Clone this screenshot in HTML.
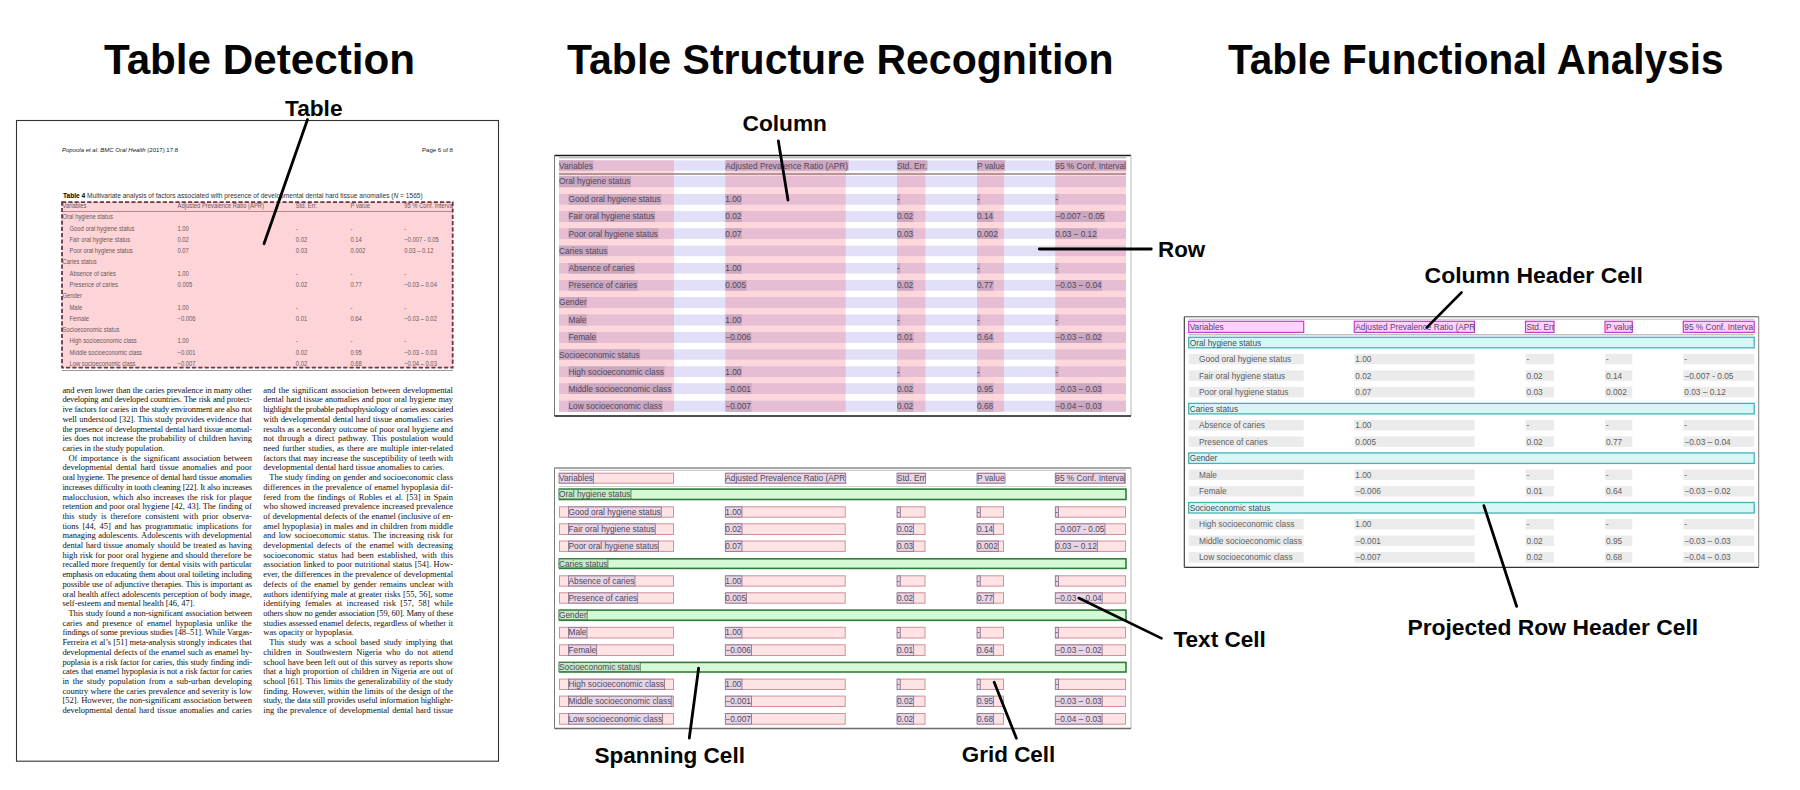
<!DOCTYPE html>
<html><head><meta charset="utf-8"><style>
html,body{margin:0;padding:0;background:#fff;width:1800px;height:790px;overflow:hidden;}
svg{position:absolute;left:0;top:0;}
.ln{position:absolute;box-sizing:border-box;font-family:"Liberation Serif",serif;font-size:8.5px;line-height:9px;color:#111;white-space:nowrap;text-align:justify;text-align-last:justify;height:9px;overflow:visible;}
.ln.nl{text-align-last:left;}
</style></head><body>
<svg width="1800" height="790" viewBox="0 0 1800 790"><text x="104.00" y="74.40" font-family="Liberation Sans" font-size="43" font-weight="bold" font-style="normal" fill="#050505" textLength="311.00" lengthAdjust="spacingAndGlyphs">Table Detection</text><text x="567.00" y="74.40" font-family="Liberation Sans" font-size="43" font-weight="bold" font-style="normal" fill="#050505" textLength="546.50" lengthAdjust="spacingAndGlyphs">Table Structure Recognition</text><text x="1228.00" y="74.40" font-family="Liberation Sans" font-size="43" font-weight="bold" font-style="normal" fill="#050505" textLength="495.50" lengthAdjust="spacingAndGlyphs">Table Functional Analysis</text><rect x="16.50" y="120.50" width="482.00" height="640.70" fill="#fff" stroke="#333" stroke-width="1.1"/><text x="62" y="152" font-family="Liberation Sans" font-size="6.2" fill="#222" textLength="116" lengthAdjust="spacingAndGlyphs"><tspan font-style="italic">Popoola et al. BMC Oral Health</tspan>  (2017) 17:8</text><text x="422.00" y="152.00" font-family="Liberation Sans" font-size="6.2" font-weight="normal" font-style="normal" fill="#222" textLength="31.00" lengthAdjust="spacingAndGlyphs">Page 6 of 8</text><text x="63" y="197.5" font-family="Liberation Sans" font-size="6.3" fill="#333" textLength="359.7" lengthAdjust="spacingAndGlyphs"><tspan font-weight="bold" fill="#000">Table 4</tspan> Multivariate analysis of factors associated with presence of developmental dental hard tissue anomalies (<tspan font-style="italic">N</tspan> = 1565)</text><rect x="62.00" y="202.00" width="391.00" height="166.00" fill="#fdd5d8" stroke="none" stroke-width="1"/><line x1="62.00" y1="211.50" x2="453.00" y2="211.50" stroke="#a88088" stroke-width="0.9"/><line x1="62.00" y1="370.50" x2="453.00" y2="370.50" stroke="#9a9a9a" stroke-width="1"/><text x="62.50" y="208.00" font-family="Liberation Sans" font-size="6.8" font-weight="normal" font-style="normal" fill="#6a585c" textLength="23.95" lengthAdjust="spacingAndGlyphs">Variables</text><text x="177.50" y="208.00" font-family="Liberation Sans" font-size="6.8" font-weight="normal" font-style="normal" fill="#6a585c" textLength="86.49" lengthAdjust="spacingAndGlyphs">Adjusted Prevalence Ratio (APR)</text><text x="295.80" y="208.00" font-family="Liberation Sans" font-size="6.8" font-weight="normal" font-style="normal" fill="#6a585c" textLength="21.13" lengthAdjust="spacingAndGlyphs">Std. Err.</text><text x="350.50" y="208.00" font-family="Liberation Sans" font-size="6.8" font-weight="normal" font-style="normal" fill="#6a585c" textLength="19.41" lengthAdjust="spacingAndGlyphs">P value</text><text x="404.20" y="208.00" font-family="Liberation Sans" font-size="6.8" font-weight="normal" font-style="normal" fill="#6a585c" textLength="48.45" lengthAdjust="spacingAndGlyphs">95 % Conf. Interva</text><text x="62.50" y="219.29" font-family="Liberation Sans" font-size="6.8" font-weight="normal" font-style="normal" fill="#6a585c" textLength="50.40" lengthAdjust="spacingAndGlyphs">Oral hygiene status</text><text x="69.50" y="230.58" font-family="Liberation Sans" font-size="6.8" font-weight="normal" font-style="normal" fill="#6a585c" textLength="65.04" lengthAdjust="spacingAndGlyphs">Good oral hygiene status</text><text x="177.50" y="230.58" font-family="Liberation Sans" font-size="6.8" font-weight="normal" font-style="normal" fill="#6a585c" textLength="11.38" lengthAdjust="spacingAndGlyphs">1.00</text><text x="295.80" y="230.58" font-family="Liberation Sans" font-size="6.8" font-weight="normal" font-style="normal" fill="#6a585c" textLength="1.95" lengthAdjust="spacingAndGlyphs">-</text><text x="350.50" y="230.58" font-family="Liberation Sans" font-size="6.8" font-weight="normal" font-style="normal" fill="#6a585c" textLength="1.95" lengthAdjust="spacingAndGlyphs">-</text><text x="404.20" y="230.58" font-family="Liberation Sans" font-size="6.8" font-weight="normal" font-style="normal" fill="#6a585c" textLength="1.95" lengthAdjust="spacingAndGlyphs">-</text><text x="69.50" y="241.87" font-family="Liberation Sans" font-size="6.8" font-weight="normal" font-style="normal" fill="#6a585c" textLength="60.80" lengthAdjust="spacingAndGlyphs">Fair oral hygiene status</text><text x="177.50" y="241.87" font-family="Liberation Sans" font-size="6.8" font-weight="normal" font-style="normal" fill="#6a585c" textLength="11.38" lengthAdjust="spacingAndGlyphs">0.02</text><text x="295.80" y="241.87" font-family="Liberation Sans" font-size="6.8" font-weight="normal" font-style="normal" fill="#6a585c" textLength="11.38" lengthAdjust="spacingAndGlyphs">0.02</text><text x="350.50" y="241.87" font-family="Liberation Sans" font-size="6.8" font-weight="normal" font-style="normal" fill="#6a585c" textLength="11.38" lengthAdjust="spacingAndGlyphs">0.14</text><text x="404.20" y="241.87" font-family="Liberation Sans" font-size="6.8" font-weight="normal" font-style="normal" fill="#6a585c" textLength="34.64" lengthAdjust="spacingAndGlyphs">−0.007 - 0.05</text><text x="69.50" y="253.16" font-family="Liberation Sans" font-size="6.8" font-weight="normal" font-style="normal" fill="#6a585c" textLength="63.08" lengthAdjust="spacingAndGlyphs">Poor oral hygiene status</text><text x="177.50" y="253.16" font-family="Liberation Sans" font-size="6.8" font-weight="normal" font-style="normal" fill="#6a585c" textLength="11.38" lengthAdjust="spacingAndGlyphs">0.07</text><text x="295.80" y="253.16" font-family="Liberation Sans" font-size="6.8" font-weight="normal" font-style="normal" fill="#6a585c" textLength="11.38" lengthAdjust="spacingAndGlyphs">0.03</text><text x="350.50" y="253.16" font-family="Liberation Sans" font-size="6.8" font-weight="normal" font-style="normal" fill="#6a585c" textLength="14.64" lengthAdjust="spacingAndGlyphs">0.002</text><text x="404.20" y="253.16" font-family="Liberation Sans" font-size="6.8" font-weight="normal" font-style="normal" fill="#6a585c" textLength="29.27" lengthAdjust="spacingAndGlyphs">0.03 – 0.12</text><text x="62.50" y="264.45" font-family="Liberation Sans" font-size="6.8" font-weight="normal" font-style="normal" fill="#6a585c" textLength="34.14" lengthAdjust="spacingAndGlyphs">Caries status</text><text x="69.50" y="275.74" font-family="Liberation Sans" font-size="6.8" font-weight="normal" font-style="normal" fill="#6a585c" textLength="46.50" lengthAdjust="spacingAndGlyphs">Absence of caries</text><text x="177.50" y="275.74" font-family="Liberation Sans" font-size="6.8" font-weight="normal" font-style="normal" fill="#6a585c" textLength="11.38" lengthAdjust="spacingAndGlyphs">1.00</text><text x="295.80" y="275.74" font-family="Liberation Sans" font-size="6.8" font-weight="normal" font-style="normal" fill="#6a585c" textLength="1.95" lengthAdjust="spacingAndGlyphs">-</text><text x="350.50" y="275.74" font-family="Liberation Sans" font-size="6.8" font-weight="normal" font-style="normal" fill="#6a585c" textLength="1.95" lengthAdjust="spacingAndGlyphs">-</text><text x="404.20" y="275.74" font-family="Liberation Sans" font-size="6.8" font-weight="normal" font-style="normal" fill="#6a585c" textLength="1.95" lengthAdjust="spacingAndGlyphs">-</text><text x="69.50" y="287.03" font-family="Liberation Sans" font-size="6.8" font-weight="normal" font-style="normal" fill="#6a585c" textLength="48.45" lengthAdjust="spacingAndGlyphs">Presence of caries</text><text x="177.50" y="287.03" font-family="Liberation Sans" font-size="6.8" font-weight="normal" font-style="normal" fill="#6a585c" textLength="14.64" lengthAdjust="spacingAndGlyphs">0.005</text><text x="295.80" y="287.03" font-family="Liberation Sans" font-size="6.8" font-weight="normal" font-style="normal" fill="#6a585c" textLength="11.38" lengthAdjust="spacingAndGlyphs">0.02</text><text x="350.50" y="287.03" font-family="Liberation Sans" font-size="6.8" font-weight="normal" font-style="normal" fill="#6a585c" textLength="11.38" lengthAdjust="spacingAndGlyphs">0.77</text><text x="404.20" y="287.03" font-family="Liberation Sans" font-size="6.8" font-weight="normal" font-style="normal" fill="#6a585c" textLength="32.69" lengthAdjust="spacingAndGlyphs">−0.03 – 0.04</text><text x="62.50" y="298.32" font-family="Liberation Sans" font-size="6.8" font-weight="normal" font-style="normal" fill="#6a585c" textLength="19.51" lengthAdjust="spacingAndGlyphs">Gender</text><text x="69.50" y="309.61" font-family="Liberation Sans" font-size="6.8" font-weight="normal" font-style="normal" fill="#6a585c" textLength="12.68" lengthAdjust="spacingAndGlyphs">Male</text><text x="177.50" y="309.61" font-family="Liberation Sans" font-size="6.8" font-weight="normal" font-style="normal" fill="#6a585c" textLength="11.38" lengthAdjust="spacingAndGlyphs">1.00</text><text x="295.80" y="309.61" font-family="Liberation Sans" font-size="6.8" font-weight="normal" font-style="normal" fill="#6a585c" textLength="1.95" lengthAdjust="spacingAndGlyphs">-</text><text x="350.50" y="309.61" font-family="Liberation Sans" font-size="6.8" font-weight="normal" font-style="normal" fill="#6a585c" textLength="1.95" lengthAdjust="spacingAndGlyphs">-</text><text x="404.20" y="309.61" font-family="Liberation Sans" font-size="6.8" font-weight="normal" font-style="normal" fill="#6a585c" textLength="1.95" lengthAdjust="spacingAndGlyphs">-</text><text x="69.50" y="320.90" font-family="Liberation Sans" font-size="6.8" font-weight="normal" font-style="normal" fill="#6a585c" textLength="19.51" lengthAdjust="spacingAndGlyphs">Female</text><text x="177.50" y="320.90" font-family="Liberation Sans" font-size="6.8" font-weight="normal" font-style="normal" fill="#6a585c" textLength="18.05" lengthAdjust="spacingAndGlyphs">−0.006</text><text x="295.80" y="320.90" font-family="Liberation Sans" font-size="6.8" font-weight="normal" font-style="normal" fill="#6a585c" textLength="11.38" lengthAdjust="spacingAndGlyphs">0.01</text><text x="350.50" y="320.90" font-family="Liberation Sans" font-size="6.8" font-weight="normal" font-style="normal" fill="#6a585c" textLength="11.38" lengthAdjust="spacingAndGlyphs">0.64</text><text x="404.20" y="320.90" font-family="Liberation Sans" font-size="6.8" font-weight="normal" font-style="normal" fill="#6a585c" textLength="32.69" lengthAdjust="spacingAndGlyphs">−0.03 – 0.02</text><text x="62.50" y="332.19" font-family="Liberation Sans" font-size="6.8" font-weight="normal" font-style="normal" fill="#6a585c" textLength="56.90" lengthAdjust="spacingAndGlyphs">Socioeconomic status</text><text x="69.50" y="343.48" font-family="Liberation Sans" font-size="6.8" font-weight="normal" font-style="normal" fill="#6a585c" textLength="67.30" lengthAdjust="spacingAndGlyphs">High socioeconomic class</text><text x="177.50" y="343.48" font-family="Liberation Sans" font-size="6.8" font-weight="normal" font-style="normal" fill="#6a585c" textLength="11.38" lengthAdjust="spacingAndGlyphs">1.00</text><text x="295.80" y="343.48" font-family="Liberation Sans" font-size="6.8" font-weight="normal" font-style="normal" fill="#6a585c" textLength="1.95" lengthAdjust="spacingAndGlyphs">-</text><text x="350.50" y="343.48" font-family="Liberation Sans" font-size="6.8" font-weight="normal" font-style="normal" fill="#6a585c" textLength="1.95" lengthAdjust="spacingAndGlyphs">-</text><text x="404.20" y="343.48" font-family="Liberation Sans" font-size="6.8" font-weight="normal" font-style="normal" fill="#6a585c" textLength="1.95" lengthAdjust="spacingAndGlyphs">-</text><text x="69.50" y="354.77" font-family="Liberation Sans" font-size="6.8" font-weight="normal" font-style="normal" fill="#6a585c" textLength="72.50" lengthAdjust="spacingAndGlyphs">Middle socioeconomic class</text><text x="177.50" y="354.77" font-family="Liberation Sans" font-size="6.8" font-weight="normal" font-style="normal" fill="#6a585c" textLength="18.05" lengthAdjust="spacingAndGlyphs">−0.001</text><text x="295.80" y="354.77" font-family="Liberation Sans" font-size="6.8" font-weight="normal" font-style="normal" fill="#6a585c" textLength="11.38" lengthAdjust="spacingAndGlyphs">0.02</text><text x="350.50" y="354.77" font-family="Liberation Sans" font-size="6.8" font-weight="normal" font-style="normal" fill="#6a585c" textLength="11.38" lengthAdjust="spacingAndGlyphs">0.95</text><text x="404.20" y="354.77" font-family="Liberation Sans" font-size="6.8" font-weight="normal" font-style="normal" fill="#6a585c" textLength="32.69" lengthAdjust="spacingAndGlyphs">−0.03 – 0.03</text><text x="69.50" y="366.06" font-family="Liberation Sans" font-size="6.8" font-weight="normal" font-style="normal" fill="#6a585c" textLength="66.00" lengthAdjust="spacingAndGlyphs">Low socioeconomic class</text><text x="177.50" y="366.06" font-family="Liberation Sans" font-size="6.8" font-weight="normal" font-style="normal" fill="#6a585c" textLength="18.05" lengthAdjust="spacingAndGlyphs">−0.007</text><text x="295.80" y="366.06" font-family="Liberation Sans" font-size="6.8" font-weight="normal" font-style="normal" fill="#6a585c" textLength="11.38" lengthAdjust="spacingAndGlyphs">0.02</text><text x="350.50" y="366.06" font-family="Liberation Sans" font-size="6.8" font-weight="normal" font-style="normal" fill="#6a585c" textLength="11.38" lengthAdjust="spacingAndGlyphs">0.68</text><text x="404.20" y="366.06" font-family="Liberation Sans" font-size="6.8" font-weight="normal" font-style="normal" fill="#6a585c" textLength="32.69" lengthAdjust="spacingAndGlyphs">−0.04 – 0.03</text><rect x="62.00" y="202.20" width="390.70" height="165.50" fill="none" stroke="#6c3642" stroke-width="1.8" stroke-dasharray="4.2 2.1"/><rect x="554.50" y="155.50" width="576.50" height="260.50" fill="#fff" stroke="none" stroke-width="1"/><rect x="559.00" y="160.40" width="115.00" height="251.30" fill="#fdd7db" stroke="none" stroke-width="1"/><rect x="725.30" y="160.40" width="120.40" height="251.30" fill="#fdd7db" stroke="none" stroke-width="1"/><rect x="897.00" y="160.40" width="28.50" height="251.30" fill="#fdd7db" stroke="none" stroke-width="1"/><rect x="977.00" y="160.40" width="27.00" height="251.30" fill="#fdd7db" stroke="none" stroke-width="1"/><rect x="1055.30" y="160.40" width="70.70" height="251.30" fill="#fdd7db" stroke="none" stroke-width="1"/><rect x="559.00" y="160.40" width="567.00" height="10.30" fill="#e2e0f8" stroke="none" stroke-width="1"/><rect x="559.00" y="160.40" width="115.00" height="10.30" fill="#e6bdd2" stroke="none" stroke-width="1"/><rect x="725.30" y="160.40" width="120.40" height="10.30" fill="#e6bdd2" stroke="none" stroke-width="1"/><rect x="897.00" y="160.40" width="28.50" height="10.30" fill="#e6bdd2" stroke="none" stroke-width="1"/><rect x="977.00" y="160.40" width="27.00" height="10.30" fill="#e6bdd2" stroke="none" stroke-width="1"/><rect x="1055.30" y="160.40" width="70.70" height="10.30" fill="#e6bdd2" stroke="none" stroke-width="1"/><rect x="559.00" y="176.00" width="567.00" height="11.20" fill="#e2e0f8" stroke="none" stroke-width="1"/><rect x="559.00" y="176.00" width="115.00" height="11.20" fill="#e6bdd2" stroke="none" stroke-width="1"/><rect x="725.30" y="176.00" width="120.40" height="11.20" fill="#e6bdd2" stroke="none" stroke-width="1"/><rect x="897.00" y="176.00" width="28.50" height="11.20" fill="#e6bdd2" stroke="none" stroke-width="1"/><rect x="977.00" y="176.00" width="27.00" height="11.20" fill="#e6bdd2" stroke="none" stroke-width="1"/><rect x="1055.30" y="176.00" width="70.70" height="11.20" fill="#e6bdd2" stroke="none" stroke-width="1"/><rect x="559.00" y="194.00" width="567.00" height="10.70" fill="#e2e0f8" stroke="none" stroke-width="1"/><rect x="559.00" y="194.00" width="115.00" height="10.70" fill="#e6bdd2" stroke="none" stroke-width="1"/><rect x="725.30" y="194.00" width="120.40" height="10.70" fill="#e6bdd2" stroke="none" stroke-width="1"/><rect x="897.00" y="194.00" width="28.50" height="10.70" fill="#e6bdd2" stroke="none" stroke-width="1"/><rect x="977.00" y="194.00" width="27.00" height="10.70" fill="#e6bdd2" stroke="none" stroke-width="1"/><rect x="1055.30" y="194.00" width="70.70" height="10.70" fill="#e6bdd2" stroke="none" stroke-width="1"/><rect x="559.00" y="211.00" width="567.00" height="11.00" fill="#e2e0f8" stroke="none" stroke-width="1"/><rect x="559.00" y="211.00" width="115.00" height="11.00" fill="#e6bdd2" stroke="none" stroke-width="1"/><rect x="725.30" y="211.00" width="120.40" height="11.00" fill="#e6bdd2" stroke="none" stroke-width="1"/><rect x="897.00" y="211.00" width="28.50" height="11.00" fill="#e6bdd2" stroke="none" stroke-width="1"/><rect x="977.00" y="211.00" width="27.00" height="11.00" fill="#e6bdd2" stroke="none" stroke-width="1"/><rect x="1055.30" y="211.00" width="70.70" height="11.00" fill="#e6bdd2" stroke="none" stroke-width="1"/><rect x="559.00" y="228.20" width="567.00" height="10.70" fill="#e2e0f8" stroke="none" stroke-width="1"/><rect x="559.00" y="228.20" width="115.00" height="10.70" fill="#e6bdd2" stroke="none" stroke-width="1"/><rect x="725.30" y="228.20" width="120.40" height="10.70" fill="#e6bdd2" stroke="none" stroke-width="1"/><rect x="897.00" y="228.20" width="28.50" height="10.70" fill="#e6bdd2" stroke="none" stroke-width="1"/><rect x="977.00" y="228.20" width="27.00" height="10.70" fill="#e6bdd2" stroke="none" stroke-width="1"/><rect x="1055.30" y="228.20" width="70.70" height="10.70" fill="#e6bdd2" stroke="none" stroke-width="1"/><rect x="559.00" y="245.70" width="567.00" height="10.40" fill="#e2e0f8" stroke="none" stroke-width="1"/><rect x="559.00" y="245.70" width="115.00" height="10.40" fill="#e6bdd2" stroke="none" stroke-width="1"/><rect x="725.30" y="245.70" width="120.40" height="10.40" fill="#e6bdd2" stroke="none" stroke-width="1"/><rect x="897.00" y="245.70" width="28.50" height="10.40" fill="#e6bdd2" stroke="none" stroke-width="1"/><rect x="977.00" y="245.70" width="27.00" height="10.40" fill="#e6bdd2" stroke="none" stroke-width="1"/><rect x="1055.30" y="245.70" width="70.70" height="10.40" fill="#e6bdd2" stroke="none" stroke-width="1"/><rect x="559.00" y="263.00" width="567.00" height="10.60" fill="#e2e0f8" stroke="none" stroke-width="1"/><rect x="559.00" y="263.00" width="115.00" height="10.60" fill="#e6bdd2" stroke="none" stroke-width="1"/><rect x="725.30" y="263.00" width="120.40" height="10.60" fill="#e6bdd2" stroke="none" stroke-width="1"/><rect x="897.00" y="263.00" width="28.50" height="10.60" fill="#e6bdd2" stroke="none" stroke-width="1"/><rect x="977.00" y="263.00" width="27.00" height="10.60" fill="#e6bdd2" stroke="none" stroke-width="1"/><rect x="1055.30" y="263.00" width="70.70" height="10.60" fill="#e6bdd2" stroke="none" stroke-width="1"/><rect x="559.00" y="280.00" width="567.00" height="10.70" fill="#e2e0f8" stroke="none" stroke-width="1"/><rect x="559.00" y="280.00" width="115.00" height="10.70" fill="#e6bdd2" stroke="none" stroke-width="1"/><rect x="725.30" y="280.00" width="120.40" height="10.70" fill="#e6bdd2" stroke="none" stroke-width="1"/><rect x="897.00" y="280.00" width="28.50" height="10.70" fill="#e6bdd2" stroke="none" stroke-width="1"/><rect x="977.00" y="280.00" width="27.00" height="10.70" fill="#e6bdd2" stroke="none" stroke-width="1"/><rect x="1055.30" y="280.00" width="70.70" height="10.70" fill="#e6bdd2" stroke="none" stroke-width="1"/><rect x="559.00" y="297.00" width="567.00" height="11.00" fill="#e2e0f8" stroke="none" stroke-width="1"/><rect x="559.00" y="297.00" width="115.00" height="11.00" fill="#e6bdd2" stroke="none" stroke-width="1"/><rect x="725.30" y="297.00" width="120.40" height="11.00" fill="#e6bdd2" stroke="none" stroke-width="1"/><rect x="897.00" y="297.00" width="28.50" height="11.00" fill="#e6bdd2" stroke="none" stroke-width="1"/><rect x="977.00" y="297.00" width="27.00" height="11.00" fill="#e6bdd2" stroke="none" stroke-width="1"/><rect x="1055.30" y="297.00" width="70.70" height="11.00" fill="#e6bdd2" stroke="none" stroke-width="1"/><rect x="559.00" y="314.50" width="567.00" height="11.00" fill="#e2e0f8" stroke="none" stroke-width="1"/><rect x="559.00" y="314.50" width="115.00" height="11.00" fill="#e6bdd2" stroke="none" stroke-width="1"/><rect x="725.30" y="314.50" width="120.40" height="11.00" fill="#e6bdd2" stroke="none" stroke-width="1"/><rect x="897.00" y="314.50" width="28.50" height="11.00" fill="#e6bdd2" stroke="none" stroke-width="1"/><rect x="977.00" y="314.50" width="27.00" height="11.00" fill="#e6bdd2" stroke="none" stroke-width="1"/><rect x="1055.30" y="314.50" width="70.70" height="11.00" fill="#e6bdd2" stroke="none" stroke-width="1"/><rect x="559.00" y="332.00" width="567.00" height="11.00" fill="#e2e0f8" stroke="none" stroke-width="1"/><rect x="559.00" y="332.00" width="115.00" height="11.00" fill="#e6bdd2" stroke="none" stroke-width="1"/><rect x="725.30" y="332.00" width="120.40" height="11.00" fill="#e6bdd2" stroke="none" stroke-width="1"/><rect x="897.00" y="332.00" width="28.50" height="11.00" fill="#e6bdd2" stroke="none" stroke-width="1"/><rect x="977.00" y="332.00" width="27.00" height="11.00" fill="#e6bdd2" stroke="none" stroke-width="1"/><rect x="1055.30" y="332.00" width="70.70" height="11.00" fill="#e6bdd2" stroke="none" stroke-width="1"/><rect x="559.00" y="349.30" width="567.00" height="10.40" fill="#e2e0f8" stroke="none" stroke-width="1"/><rect x="559.00" y="349.30" width="115.00" height="10.40" fill="#e6bdd2" stroke="none" stroke-width="1"/><rect x="725.30" y="349.30" width="120.40" height="10.40" fill="#e6bdd2" stroke="none" stroke-width="1"/><rect x="897.00" y="349.30" width="28.50" height="10.40" fill="#e6bdd2" stroke="none" stroke-width="1"/><rect x="977.00" y="349.30" width="27.00" height="10.40" fill="#e6bdd2" stroke="none" stroke-width="1"/><rect x="1055.30" y="349.30" width="70.70" height="10.40" fill="#e6bdd2" stroke="none" stroke-width="1"/><rect x="559.00" y="366.30" width="567.00" height="10.70" fill="#e2e0f8" stroke="none" stroke-width="1"/><rect x="559.00" y="366.30" width="115.00" height="10.70" fill="#e6bdd2" stroke="none" stroke-width="1"/><rect x="725.30" y="366.30" width="120.40" height="10.70" fill="#e6bdd2" stroke="none" stroke-width="1"/><rect x="897.00" y="366.30" width="28.50" height="10.70" fill="#e6bdd2" stroke="none" stroke-width="1"/><rect x="977.00" y="366.30" width="27.00" height="10.70" fill="#e6bdd2" stroke="none" stroke-width="1"/><rect x="1055.30" y="366.30" width="70.70" height="10.70" fill="#e6bdd2" stroke="none" stroke-width="1"/><rect x="559.00" y="383.30" width="567.00" height="10.70" fill="#e2e0f8" stroke="none" stroke-width="1"/><rect x="559.00" y="383.30" width="115.00" height="10.70" fill="#e6bdd2" stroke="none" stroke-width="1"/><rect x="725.30" y="383.30" width="120.40" height="10.70" fill="#e6bdd2" stroke="none" stroke-width="1"/><rect x="897.00" y="383.30" width="28.50" height="10.70" fill="#e6bdd2" stroke="none" stroke-width="1"/><rect x="977.00" y="383.30" width="27.00" height="10.70" fill="#e6bdd2" stroke="none" stroke-width="1"/><rect x="1055.30" y="383.30" width="70.70" height="10.70" fill="#e6bdd2" stroke="none" stroke-width="1"/><rect x="559.00" y="400.70" width="567.00" height="11.00" fill="#e2e0f8" stroke="none" stroke-width="1"/><rect x="559.00" y="400.70" width="115.00" height="11.00" fill="#e6bdd2" stroke="none" stroke-width="1"/><rect x="725.30" y="400.70" width="120.40" height="11.00" fill="#e6bdd2" stroke="none" stroke-width="1"/><rect x="897.00" y="400.70" width="28.50" height="11.00" fill="#e6bdd2" stroke="none" stroke-width="1"/><rect x="977.00" y="400.70" width="27.00" height="11.00" fill="#e6bdd2" stroke="none" stroke-width="1"/><rect x="1055.30" y="400.70" width="70.70" height="11.00" fill="#e6bdd2" stroke="none" stroke-width="1"/><line x1="559.00" y1="174.00" x2="1126.00" y2="174.00" stroke="#9a8080" stroke-width="1.5"/><line x1="559.00" y1="157.80" x2="1126.00" y2="157.80" stroke="#a0a0a0" stroke-width="1"/><rect x="559.00" y="160.40" width="34.48" height="10.30" fill="#caa8c0" stroke="none" stroke-width="1"/><text x="559.00" y="168.70" font-family="Liberation Sans" font-size="8.8" font-weight="normal" font-style="normal" fill="#54465a" textLength="33.98" lengthAdjust="spacingAndGlyphs">Variables</text><rect x="725.30" y="160.40" width="123.21" height="10.30" fill="#caa8c0" stroke="none" stroke-width="1"/><text x="725.30" y="168.70" font-family="Liberation Sans" font-size="8.8" font-weight="normal" font-style="normal" fill="#54465a" textLength="122.71" lengthAdjust="spacingAndGlyphs">Adjusted Prevalence Ratio (APR)</text><rect x="897.00" y="160.40" width="30.48" height="10.30" fill="#caa8c0" stroke="none" stroke-width="1"/><text x="897.00" y="168.70" font-family="Liberation Sans" font-size="8.8" font-weight="normal" font-style="normal" fill="#54465a" textLength="29.98" lengthAdjust="spacingAndGlyphs">Std. Err.</text><rect x="977.00" y="160.40" width="28.03" height="10.30" fill="#caa8c0" stroke="none" stroke-width="1"/><text x="977.00" y="168.70" font-family="Liberation Sans" font-size="8.8" font-weight="normal" font-style="normal" fill="#54465a" textLength="27.53" lengthAdjust="spacingAndGlyphs">P value</text><rect x="1055.30" y="160.40" width="71.08" height="10.30" fill="#caa8c0" stroke="none" stroke-width="1"/><text x="1055.30" y="168.70" font-family="Liberation Sans" font-size="8.8" font-weight="normal" font-style="normal" fill="#54465a" textLength="70.58" lengthAdjust="spacingAndGlyphs">95 % Conf. Interval</text><rect x="559.00" y="176.00" width="72.01" height="11.20" fill="#caa8c0" stroke="none" stroke-width="1"/><text x="559.00" y="184.30" font-family="Liberation Sans" font-size="8.8" font-weight="normal" font-style="normal" fill="#54465a" textLength="71.51" lengthAdjust="spacingAndGlyphs">Oral hygiene status</text><rect x="568.50" y="194.00" width="92.77" height="10.70" fill="#caa8c0" stroke="none" stroke-width="1"/><text x="568.50" y="202.30" font-family="Liberation Sans" font-size="8.8" font-weight="normal" font-style="normal" fill="#54465a" textLength="92.27" lengthAdjust="spacingAndGlyphs">Good oral hygiene status</text><rect x="725.30" y="194.00" width="16.65" height="10.70" fill="#caa8c0" stroke="none" stroke-width="1"/><text x="725.30" y="202.30" font-family="Liberation Sans" font-size="8.8" font-weight="normal" font-style="normal" fill="#54465a" textLength="16.15" lengthAdjust="spacingAndGlyphs">1.00</text><rect x="897.00" y="194.00" width="3.26" height="10.70" fill="#caa8c0" stroke="none" stroke-width="1"/><text x="897.00" y="202.30" font-family="Liberation Sans" font-size="8.8" font-weight="normal" font-style="normal" fill="#54465a" textLength="2.76" lengthAdjust="spacingAndGlyphs">-</text><rect x="977.00" y="194.00" width="3.26" height="10.70" fill="#caa8c0" stroke="none" stroke-width="1"/><text x="977.00" y="202.30" font-family="Liberation Sans" font-size="8.8" font-weight="normal" font-style="normal" fill="#54465a" textLength="2.76" lengthAdjust="spacingAndGlyphs">-</text><rect x="1055.30" y="194.00" width="3.26" height="10.70" fill="#caa8c0" stroke="none" stroke-width="1"/><text x="1055.30" y="202.30" font-family="Liberation Sans" font-size="8.8" font-weight="normal" font-style="normal" fill="#54465a" textLength="2.76" lengthAdjust="spacingAndGlyphs">-</text><rect x="568.50" y="211.00" width="86.76" height="11.00" fill="#caa8c0" stroke="none" stroke-width="1"/><text x="568.50" y="219.30" font-family="Liberation Sans" font-size="8.8" font-weight="normal" font-style="normal" fill="#54465a" textLength="86.26" lengthAdjust="spacingAndGlyphs">Fair oral hygiene status</text><rect x="725.30" y="211.00" width="16.65" height="11.00" fill="#caa8c0" stroke="none" stroke-width="1"/><text x="725.30" y="219.30" font-family="Liberation Sans" font-size="8.8" font-weight="normal" font-style="normal" fill="#54465a" textLength="16.15" lengthAdjust="spacingAndGlyphs">0.02</text><rect x="897.00" y="211.00" width="16.65" height="11.00" fill="#caa8c0" stroke="none" stroke-width="1"/><text x="897.00" y="219.30" font-family="Liberation Sans" font-size="8.8" font-weight="normal" font-style="normal" fill="#54465a" textLength="16.15" lengthAdjust="spacingAndGlyphs">0.02</text><rect x="977.00" y="211.00" width="16.65" height="11.00" fill="#caa8c0" stroke="none" stroke-width="1"/><text x="977.00" y="219.30" font-family="Liberation Sans" font-size="8.8" font-weight="normal" font-style="normal" fill="#54465a" textLength="16.15" lengthAdjust="spacingAndGlyphs">0.14</text><rect x="1055.30" y="211.00" width="49.64" height="11.00" fill="#caa8c0" stroke="none" stroke-width="1"/><text x="1055.30" y="219.30" font-family="Liberation Sans" font-size="8.8" font-weight="normal" font-style="normal" fill="#54465a" textLength="49.14" lengthAdjust="spacingAndGlyphs">−0.007 - 0.05</text><rect x="568.50" y="228.20" width="90.00" height="10.70" fill="#caa8c0" stroke="none" stroke-width="1"/><text x="568.50" y="236.50" font-family="Liberation Sans" font-size="8.8" font-weight="normal" font-style="normal" fill="#54465a" textLength="89.50" lengthAdjust="spacingAndGlyphs">Poor oral hygiene status</text><rect x="725.30" y="228.20" width="16.65" height="10.70" fill="#caa8c0" stroke="none" stroke-width="1"/><text x="725.30" y="236.50" font-family="Liberation Sans" font-size="8.8" font-weight="normal" font-style="normal" fill="#54465a" textLength="16.15" lengthAdjust="spacingAndGlyphs">0.07</text><rect x="897.00" y="228.20" width="16.65" height="10.70" fill="#caa8c0" stroke="none" stroke-width="1"/><text x="897.00" y="236.50" font-family="Liberation Sans" font-size="8.8" font-weight="normal" font-style="normal" fill="#54465a" textLength="16.15" lengthAdjust="spacingAndGlyphs">0.03</text><rect x="977.00" y="228.20" width="21.27" height="10.70" fill="#caa8c0" stroke="none" stroke-width="1"/><text x="977.00" y="236.50" font-family="Liberation Sans" font-size="8.8" font-weight="normal" font-style="normal" fill="#54465a" textLength="20.77" lengthAdjust="spacingAndGlyphs">0.002</text><rect x="1055.30" y="228.20" width="42.03" height="10.70" fill="#caa8c0" stroke="none" stroke-width="1"/><text x="1055.30" y="236.50" font-family="Liberation Sans" font-size="8.8" font-weight="normal" font-style="normal" fill="#54465a" textLength="41.53" lengthAdjust="spacingAndGlyphs">0.03 – 0.12</text><rect x="559.00" y="245.70" width="48.93" height="10.40" fill="#caa8c0" stroke="none" stroke-width="1"/><text x="559.00" y="254.00" font-family="Liberation Sans" font-size="8.8" font-weight="normal" font-style="normal" fill="#54465a" textLength="48.43" lengthAdjust="spacingAndGlyphs">Caries status</text><rect x="568.50" y="263.00" width="66.47" height="10.60" fill="#caa8c0" stroke="none" stroke-width="1"/><text x="568.50" y="271.30" font-family="Liberation Sans" font-size="8.8" font-weight="normal" font-style="normal" fill="#54465a" textLength="65.97" lengthAdjust="spacingAndGlyphs">Absence of caries</text><rect x="725.30" y="263.00" width="16.65" height="10.60" fill="#caa8c0" stroke="none" stroke-width="1"/><text x="725.30" y="271.30" font-family="Liberation Sans" font-size="8.8" font-weight="normal" font-style="normal" fill="#54465a" textLength="16.15" lengthAdjust="spacingAndGlyphs">1.00</text><rect x="897.00" y="263.00" width="3.26" height="10.60" fill="#caa8c0" stroke="none" stroke-width="1"/><text x="897.00" y="271.30" font-family="Liberation Sans" font-size="8.8" font-weight="normal" font-style="normal" fill="#54465a" textLength="2.76" lengthAdjust="spacingAndGlyphs">-</text><rect x="977.00" y="263.00" width="3.26" height="10.60" fill="#caa8c0" stroke="none" stroke-width="1"/><text x="977.00" y="271.30" font-family="Liberation Sans" font-size="8.8" font-weight="normal" font-style="normal" fill="#54465a" textLength="2.76" lengthAdjust="spacingAndGlyphs">-</text><rect x="1055.30" y="263.00" width="3.26" height="10.60" fill="#caa8c0" stroke="none" stroke-width="1"/><text x="1055.30" y="271.30" font-family="Liberation Sans" font-size="8.8" font-weight="normal" font-style="normal" fill="#54465a" textLength="2.76" lengthAdjust="spacingAndGlyphs">-</text><rect x="568.50" y="280.00" width="69.23" height="10.70" fill="#caa8c0" stroke="none" stroke-width="1"/><text x="568.50" y="288.30" font-family="Liberation Sans" font-size="8.8" font-weight="normal" font-style="normal" fill="#54465a" textLength="68.73" lengthAdjust="spacingAndGlyphs">Presence of caries</text><rect x="725.30" y="280.00" width="21.27" height="10.70" fill="#caa8c0" stroke="none" stroke-width="1"/><text x="725.30" y="288.30" font-family="Liberation Sans" font-size="8.8" font-weight="normal" font-style="normal" fill="#54465a" textLength="20.77" lengthAdjust="spacingAndGlyphs">0.005</text><rect x="897.00" y="280.00" width="16.65" height="10.70" fill="#caa8c0" stroke="none" stroke-width="1"/><text x="897.00" y="288.30" font-family="Liberation Sans" font-size="8.8" font-weight="normal" font-style="normal" fill="#54465a" textLength="16.15" lengthAdjust="spacingAndGlyphs">0.02</text><rect x="977.00" y="280.00" width="16.65" height="10.70" fill="#caa8c0" stroke="none" stroke-width="1"/><text x="977.00" y="288.30" font-family="Liberation Sans" font-size="8.8" font-weight="normal" font-style="normal" fill="#54465a" textLength="16.15" lengthAdjust="spacingAndGlyphs">0.77</text><rect x="1055.30" y="280.00" width="46.88" height="10.70" fill="#caa8c0" stroke="none" stroke-width="1"/><text x="1055.30" y="288.30" font-family="Liberation Sans" font-size="8.8" font-weight="normal" font-style="normal" fill="#54465a" textLength="46.38" lengthAdjust="spacingAndGlyphs">−0.03 – 0.04</text><rect x="559.00" y="297.00" width="28.18" height="11.00" fill="#caa8c0" stroke="none" stroke-width="1"/><text x="559.00" y="305.30" font-family="Liberation Sans" font-size="8.8" font-weight="normal" font-style="normal" fill="#54465a" textLength="27.68" lengthAdjust="spacingAndGlyphs">Gender</text><rect x="568.50" y="314.50" width="18.49" height="11.00" fill="#caa8c0" stroke="none" stroke-width="1"/><text x="568.50" y="322.80" font-family="Liberation Sans" font-size="8.8" font-weight="normal" font-style="normal" fill="#54465a" textLength="17.99" lengthAdjust="spacingAndGlyphs">Male</text><rect x="725.30" y="314.50" width="16.65" height="11.00" fill="#caa8c0" stroke="none" stroke-width="1"/><text x="725.30" y="322.80" font-family="Liberation Sans" font-size="8.8" font-weight="normal" font-style="normal" fill="#54465a" textLength="16.15" lengthAdjust="spacingAndGlyphs">1.00</text><rect x="897.00" y="314.50" width="3.26" height="11.00" fill="#caa8c0" stroke="none" stroke-width="1"/><text x="897.00" y="322.80" font-family="Liberation Sans" font-size="8.8" font-weight="normal" font-style="normal" fill="#54465a" textLength="2.76" lengthAdjust="spacingAndGlyphs">-</text><rect x="977.00" y="314.50" width="3.26" height="11.00" fill="#caa8c0" stroke="none" stroke-width="1"/><text x="977.00" y="322.80" font-family="Liberation Sans" font-size="8.8" font-weight="normal" font-style="normal" fill="#54465a" textLength="2.76" lengthAdjust="spacingAndGlyphs">-</text><rect x="1055.30" y="314.50" width="3.26" height="11.00" fill="#caa8c0" stroke="none" stroke-width="1"/><text x="1055.30" y="322.80" font-family="Liberation Sans" font-size="8.8" font-weight="normal" font-style="normal" fill="#54465a" textLength="2.76" lengthAdjust="spacingAndGlyphs">-</text><rect x="568.50" y="332.00" width="28.17" height="11.00" fill="#caa8c0" stroke="none" stroke-width="1"/><text x="568.50" y="340.30" font-family="Liberation Sans" font-size="8.8" font-weight="normal" font-style="normal" fill="#54465a" textLength="27.67" lengthAdjust="spacingAndGlyphs">Female</text><rect x="725.30" y="332.00" width="26.12" height="11.00" fill="#caa8c0" stroke="none" stroke-width="1"/><text x="725.30" y="340.30" font-family="Liberation Sans" font-size="8.8" font-weight="normal" font-style="normal" fill="#54465a" textLength="25.62" lengthAdjust="spacingAndGlyphs">−0.006</text><rect x="897.00" y="332.00" width="16.65" height="11.00" fill="#caa8c0" stroke="none" stroke-width="1"/><text x="897.00" y="340.30" font-family="Liberation Sans" font-size="8.8" font-weight="normal" font-style="normal" fill="#54465a" textLength="16.15" lengthAdjust="spacingAndGlyphs">0.01</text><rect x="977.00" y="332.00" width="16.65" height="11.00" fill="#caa8c0" stroke="none" stroke-width="1"/><text x="977.00" y="340.30" font-family="Liberation Sans" font-size="8.8" font-weight="normal" font-style="normal" fill="#54465a" textLength="16.15" lengthAdjust="spacingAndGlyphs">0.64</text><rect x="1055.30" y="332.00" width="46.88" height="11.00" fill="#caa8c0" stroke="none" stroke-width="1"/><text x="1055.30" y="340.30" font-family="Liberation Sans" font-size="8.8" font-weight="normal" font-style="normal" fill="#54465a" textLength="46.38" lengthAdjust="spacingAndGlyphs">−0.03 – 0.02</text><rect x="559.00" y="349.30" width="81.23" height="10.40" fill="#caa8c0" stroke="none" stroke-width="1"/><text x="559.00" y="357.60" font-family="Liberation Sans" font-size="8.8" font-weight="normal" font-style="normal" fill="#54465a" textLength="80.73" lengthAdjust="spacingAndGlyphs">Socioeconomic status</text><rect x="568.50" y="366.30" width="95.99" height="10.70" fill="#caa8c0" stroke="none" stroke-width="1"/><text x="568.50" y="374.60" font-family="Liberation Sans" font-size="8.8" font-weight="normal" font-style="normal" fill="#54465a" textLength="95.49" lengthAdjust="spacingAndGlyphs">High socioeconomic class</text><rect x="725.30" y="366.30" width="16.65" height="10.70" fill="#caa8c0" stroke="none" stroke-width="1"/><text x="725.30" y="374.60" font-family="Liberation Sans" font-size="8.8" font-weight="normal" font-style="normal" fill="#54465a" textLength="16.15" lengthAdjust="spacingAndGlyphs">1.00</text><rect x="897.00" y="366.30" width="3.26" height="10.70" fill="#caa8c0" stroke="none" stroke-width="1"/><text x="897.00" y="374.60" font-family="Liberation Sans" font-size="8.8" font-weight="normal" font-style="normal" fill="#54465a" textLength="2.76" lengthAdjust="spacingAndGlyphs">-</text><rect x="977.00" y="366.30" width="3.26" height="10.70" fill="#caa8c0" stroke="none" stroke-width="1"/><text x="977.00" y="374.60" font-family="Liberation Sans" font-size="8.8" font-weight="normal" font-style="normal" fill="#54465a" textLength="2.76" lengthAdjust="spacingAndGlyphs">-</text><rect x="1055.30" y="366.30" width="3.26" height="10.70" fill="#caa8c0" stroke="none" stroke-width="1"/><text x="1055.30" y="374.60" font-family="Liberation Sans" font-size="8.8" font-weight="normal" font-style="normal" fill="#54465a" textLength="2.76" lengthAdjust="spacingAndGlyphs">-</text><rect x="568.50" y="383.30" width="103.37" height="10.70" fill="#caa8c0" stroke="none" stroke-width="1"/><text x="568.50" y="391.60" font-family="Liberation Sans" font-size="8.8" font-weight="normal" font-style="normal" fill="#54465a" textLength="102.87" lengthAdjust="spacingAndGlyphs">Middle socioeconomic class</text><rect x="725.30" y="383.30" width="26.12" height="10.70" fill="#caa8c0" stroke="none" stroke-width="1"/><text x="725.30" y="391.60" font-family="Liberation Sans" font-size="8.8" font-weight="normal" font-style="normal" fill="#54465a" textLength="25.62" lengthAdjust="spacingAndGlyphs">−0.001</text><rect x="897.00" y="383.30" width="16.65" height="10.70" fill="#caa8c0" stroke="none" stroke-width="1"/><text x="897.00" y="391.60" font-family="Liberation Sans" font-size="8.8" font-weight="normal" font-style="normal" fill="#54465a" textLength="16.15" lengthAdjust="spacingAndGlyphs">0.02</text><rect x="977.00" y="383.30" width="16.65" height="10.70" fill="#caa8c0" stroke="none" stroke-width="1"/><text x="977.00" y="391.60" font-family="Liberation Sans" font-size="8.8" font-weight="normal" font-style="normal" fill="#54465a" textLength="16.15" lengthAdjust="spacingAndGlyphs">0.95</text><rect x="1055.30" y="383.30" width="46.88" height="10.70" fill="#caa8c0" stroke="none" stroke-width="1"/><text x="1055.30" y="391.60" font-family="Liberation Sans" font-size="8.8" font-weight="normal" font-style="normal" fill="#54465a" textLength="46.38" lengthAdjust="spacingAndGlyphs">−0.03 – 0.03</text><rect x="568.50" y="400.70" width="94.14" height="11.00" fill="#caa8c0" stroke="none" stroke-width="1"/><text x="568.50" y="409.00" font-family="Liberation Sans" font-size="8.8" font-weight="normal" font-style="normal" fill="#54465a" textLength="93.64" lengthAdjust="spacingAndGlyphs">Low socioeconomic class</text><rect x="725.30" y="400.70" width="26.12" height="11.00" fill="#caa8c0" stroke="none" stroke-width="1"/><text x="725.30" y="409.00" font-family="Liberation Sans" font-size="8.8" font-weight="normal" font-style="normal" fill="#54465a" textLength="25.62" lengthAdjust="spacingAndGlyphs">−0.007</text><rect x="897.00" y="400.70" width="16.65" height="11.00" fill="#caa8c0" stroke="none" stroke-width="1"/><text x="897.00" y="409.00" font-family="Liberation Sans" font-size="8.8" font-weight="normal" font-style="normal" fill="#54465a" textLength="16.15" lengthAdjust="spacingAndGlyphs">0.02</text><rect x="977.00" y="400.70" width="16.65" height="11.00" fill="#caa8c0" stroke="none" stroke-width="1"/><text x="977.00" y="409.00" font-family="Liberation Sans" font-size="8.8" font-weight="normal" font-style="normal" fill="#54465a" textLength="16.15" lengthAdjust="spacingAndGlyphs">0.68</text><rect x="1055.30" y="400.70" width="46.88" height="11.00" fill="#caa8c0" stroke="none" stroke-width="1"/><text x="1055.30" y="409.00" font-family="Liberation Sans" font-size="8.8" font-weight="normal" font-style="normal" fill="#54465a" textLength="46.38" lengthAdjust="spacingAndGlyphs">−0.04 – 0.03</text><line x1="554.50" y1="155.50" x2="1131.00" y2="155.50" stroke="#1a1a1a" stroke-width="1.3"/><line x1="554.50" y1="155.50" x2="554.50" y2="416.00" stroke="#7a7a7a" stroke-width="1"/><line x1="1131.00" y1="155.50" x2="1131.00" y2="416.00" stroke="#c4c4c4" stroke-width="1.2"/><line x1="554.50" y1="416.00" x2="1131.00" y2="416.00" stroke="#151515" stroke-width="1.3"/><rect x="554.50" y="468.00" width="576.50" height="260.50" fill="#fff" stroke="none" stroke-width="1"/><line x1="559.00" y1="470.30" x2="1126.00" y2="470.30" stroke="#c0c0c0" stroke-width="1"/><line x1="559.00" y1="486.50" x2="1126.00" y2="486.50" stroke="#d0d0d0" stroke-width="1"/><rect x="559.50" y="473.20" width="114.00" height="10.00" fill="#fde3e3" stroke="#d4909a" stroke-width="1"/><rect x="725.80" y="473.20" width="119.40" height="10.00" fill="#fde3e3" stroke="#d4909a" stroke-width="1"/><rect x="897.50" y="473.20" width="27.50" height="10.00" fill="#fde3e3" stroke="#d4909a" stroke-width="1"/><rect x="977.50" y="473.20" width="26.00" height="10.00" fill="#fde3e3" stroke="#d4909a" stroke-width="1"/><rect x="1055.80" y="473.20" width="69.70" height="10.00" fill="#fde3e3" stroke="#d4909a" stroke-width="1"/><rect x="559.00" y="473.30" width="34.48" height="9.80" fill="#e6d6e6" stroke="#8e7088" stroke-width="0.85"/><text x="559.00" y="481.20" font-family="Liberation Sans" font-size="8.8" font-weight="normal" font-style="normal" fill="#54465a" textLength="33.98" lengthAdjust="spacingAndGlyphs">Variables</text><rect x="725.30" y="473.30" width="120.44" height="9.80" fill="#e6d6e6" stroke="#8e7088" stroke-width="0.85"/><text x="725.30" y="481.20" font-family="Liberation Sans" font-size="8.8" font-weight="normal" font-style="normal" fill="#54465a" textLength="119.94" lengthAdjust="spacingAndGlyphs">Adjusted Prevalence Ratio (APR</text><rect x="897.00" y="473.30" width="28.63" height="9.80" fill="#e6d6e6" stroke="#8e7088" stroke-width="0.85"/><text x="897.00" y="481.20" font-family="Liberation Sans" font-size="8.8" font-weight="normal" font-style="normal" fill="#54465a" textLength="28.13" lengthAdjust="spacingAndGlyphs">Std. Err</text><rect x="977.00" y="473.30" width="28.03" height="9.80" fill="#e6d6e6" stroke="#8e7088" stroke-width="0.85"/><text x="977.00" y="481.20" font-family="Liberation Sans" font-size="8.8" font-weight="normal" font-style="normal" fill="#54465a" textLength="27.53" lengthAdjust="spacingAndGlyphs">P value</text><rect x="1055.30" y="473.30" width="69.24" height="9.80" fill="#e6d6e6" stroke="#8e7088" stroke-width="0.85"/><text x="1055.30" y="481.20" font-family="Liberation Sans" font-size="8.8" font-weight="normal" font-style="normal" fill="#54465a" textLength="68.74" lengthAdjust="spacingAndGlyphs">95 % Conf. Interva</text><rect x="559.60" y="489.10" width="566.40" height="10.40" fill="#d5f8d5" stroke="#2e7d3a" stroke-width="1.6"/><rect x="559.00" y="489.30" width="72.01" height="9.60" fill="#c4eac4" stroke="#3c7a4c" stroke-width="0.8"/><text x="559.00" y="496.80" font-family="Liberation Sans" font-size="8.8" font-weight="normal" font-style="normal" fill="#54465a" textLength="71.51" lengthAdjust="spacingAndGlyphs">Oral hygiene status</text><rect x="559.50" y="506.80" width="114.00" height="10.40" fill="#fde3e3" stroke="#d4909a" stroke-width="1"/><rect x="725.80" y="506.80" width="119.40" height="10.40" fill="#fde3e3" stroke="#d4909a" stroke-width="1"/><rect x="897.50" y="506.80" width="27.50" height="10.40" fill="#fde3e3" stroke="#d4909a" stroke-width="1"/><rect x="977.50" y="506.80" width="26.00" height="10.40" fill="#fde3e3" stroke="#d4909a" stroke-width="1"/><rect x="1055.80" y="506.80" width="69.70" height="10.40" fill="#fde3e3" stroke="#d4909a" stroke-width="1"/><rect x="568.50" y="506.90" width="92.77" height="10.20" fill="#e6d6e6" stroke="#8e7088" stroke-width="0.85"/><text x="568.50" y="514.80" font-family="Liberation Sans" font-size="8.8" font-weight="normal" font-style="normal" fill="#54465a" textLength="92.27" lengthAdjust="spacingAndGlyphs">Good oral hygiene status</text><rect x="725.30" y="506.90" width="16.65" height="10.20" fill="#e6d6e6" stroke="#8e7088" stroke-width="0.85"/><text x="725.30" y="514.80" font-family="Liberation Sans" font-size="8.8" font-weight="normal" font-style="normal" fill="#54465a" textLength="16.15" lengthAdjust="spacingAndGlyphs">1.00</text><rect x="897.00" y="506.90" width="3.26" height="10.20" fill="#e6d6e6" stroke="#8e7088" stroke-width="0.85"/><text x="897.00" y="514.80" font-family="Liberation Sans" font-size="8.8" font-weight="normal" font-style="normal" fill="#54465a" textLength="2.76" lengthAdjust="spacingAndGlyphs">-</text><rect x="977.00" y="506.90" width="3.26" height="10.20" fill="#e6d6e6" stroke="#8e7088" stroke-width="0.85"/><text x="977.00" y="514.80" font-family="Liberation Sans" font-size="8.8" font-weight="normal" font-style="normal" fill="#54465a" textLength="2.76" lengthAdjust="spacingAndGlyphs">-</text><rect x="1055.30" y="506.90" width="3.26" height="10.20" fill="#e6d6e6" stroke="#8e7088" stroke-width="0.85"/><text x="1055.30" y="514.80" font-family="Liberation Sans" font-size="8.8" font-weight="normal" font-style="normal" fill="#54465a" textLength="2.76" lengthAdjust="spacingAndGlyphs">-</text><rect x="559.50" y="523.80" width="114.00" height="10.70" fill="#fde3e3" stroke="#d4909a" stroke-width="1"/><rect x="725.80" y="523.80" width="119.40" height="10.70" fill="#fde3e3" stroke="#d4909a" stroke-width="1"/><rect x="897.50" y="523.80" width="27.50" height="10.70" fill="#fde3e3" stroke="#d4909a" stroke-width="1"/><rect x="977.50" y="523.80" width="26.00" height="10.70" fill="#fde3e3" stroke="#d4909a" stroke-width="1"/><rect x="1055.80" y="523.80" width="69.70" height="10.70" fill="#fde3e3" stroke="#d4909a" stroke-width="1"/><rect x="568.50" y="523.90" width="86.76" height="10.50" fill="#e6d6e6" stroke="#8e7088" stroke-width="0.85"/><text x="568.50" y="531.80" font-family="Liberation Sans" font-size="8.8" font-weight="normal" font-style="normal" fill="#54465a" textLength="86.26" lengthAdjust="spacingAndGlyphs">Fair oral hygiene status</text><rect x="725.30" y="523.90" width="16.65" height="10.50" fill="#e6d6e6" stroke="#8e7088" stroke-width="0.85"/><text x="725.30" y="531.80" font-family="Liberation Sans" font-size="8.8" font-weight="normal" font-style="normal" fill="#54465a" textLength="16.15" lengthAdjust="spacingAndGlyphs">0.02</text><rect x="897.00" y="523.90" width="16.65" height="10.50" fill="#e6d6e6" stroke="#8e7088" stroke-width="0.85"/><text x="897.00" y="531.80" font-family="Liberation Sans" font-size="8.8" font-weight="normal" font-style="normal" fill="#54465a" textLength="16.15" lengthAdjust="spacingAndGlyphs">0.02</text><rect x="977.00" y="523.90" width="16.65" height="10.50" fill="#e6d6e6" stroke="#8e7088" stroke-width="0.85"/><text x="977.00" y="531.80" font-family="Liberation Sans" font-size="8.8" font-weight="normal" font-style="normal" fill="#54465a" textLength="16.15" lengthAdjust="spacingAndGlyphs">0.14</text><rect x="1055.30" y="523.90" width="49.64" height="10.50" fill="#e6d6e6" stroke="#8e7088" stroke-width="0.85"/><text x="1055.30" y="531.80" font-family="Liberation Sans" font-size="8.8" font-weight="normal" font-style="normal" fill="#54465a" textLength="49.14" lengthAdjust="spacingAndGlyphs">−0.007 - 0.05</text><rect x="559.50" y="541.00" width="114.00" height="10.40" fill="#fde3e3" stroke="#d4909a" stroke-width="1"/><rect x="725.80" y="541.00" width="119.40" height="10.40" fill="#fde3e3" stroke="#d4909a" stroke-width="1"/><rect x="897.50" y="541.00" width="27.50" height="10.40" fill="#fde3e3" stroke="#d4909a" stroke-width="1"/><rect x="977.50" y="541.00" width="26.00" height="10.40" fill="#fde3e3" stroke="#d4909a" stroke-width="1"/><rect x="1055.80" y="541.00" width="69.70" height="10.40" fill="#fde3e3" stroke="#d4909a" stroke-width="1"/><rect x="568.50" y="541.10" width="90.00" height="10.20" fill="#e6d6e6" stroke="#8e7088" stroke-width="0.85"/><text x="568.50" y="549.00" font-family="Liberation Sans" font-size="8.8" font-weight="normal" font-style="normal" fill="#54465a" textLength="89.50" lengthAdjust="spacingAndGlyphs">Poor oral hygiene status</text><rect x="725.30" y="541.10" width="16.65" height="10.20" fill="#e6d6e6" stroke="#8e7088" stroke-width="0.85"/><text x="725.30" y="549.00" font-family="Liberation Sans" font-size="8.8" font-weight="normal" font-style="normal" fill="#54465a" textLength="16.15" lengthAdjust="spacingAndGlyphs">0.07</text><rect x="897.00" y="541.10" width="16.65" height="10.20" fill="#e6d6e6" stroke="#8e7088" stroke-width="0.85"/><text x="897.00" y="549.00" font-family="Liberation Sans" font-size="8.8" font-weight="normal" font-style="normal" fill="#54465a" textLength="16.15" lengthAdjust="spacingAndGlyphs">0.03</text><rect x="977.00" y="541.10" width="21.27" height="10.20" fill="#e6d6e6" stroke="#8e7088" stroke-width="0.85"/><text x="977.00" y="549.00" font-family="Liberation Sans" font-size="8.8" font-weight="normal" font-style="normal" fill="#54465a" textLength="20.77" lengthAdjust="spacingAndGlyphs">0.002</text><rect x="1055.30" y="541.10" width="42.03" height="10.20" fill="#e6d6e6" stroke="#8e7088" stroke-width="0.85"/><text x="1055.30" y="549.00" font-family="Liberation Sans" font-size="8.8" font-weight="normal" font-style="normal" fill="#54465a" textLength="41.53" lengthAdjust="spacingAndGlyphs">0.03 – 0.12</text><rect x="559.60" y="558.80" width="566.40" height="9.60" fill="#d5f8d5" stroke="#2e7d3a" stroke-width="1.6"/><rect x="559.00" y="559.00" width="48.93" height="8.80" fill="#c4eac4" stroke="#3c7a4c" stroke-width="0.8"/><text x="559.00" y="566.50" font-family="Liberation Sans" font-size="8.8" font-weight="normal" font-style="normal" fill="#54465a" textLength="48.43" lengthAdjust="spacingAndGlyphs">Caries status</text><rect x="559.50" y="575.80" width="114.00" height="10.30" fill="#fde3e3" stroke="#d4909a" stroke-width="1"/><rect x="725.80" y="575.80" width="119.40" height="10.30" fill="#fde3e3" stroke="#d4909a" stroke-width="1"/><rect x="897.50" y="575.80" width="27.50" height="10.30" fill="#fde3e3" stroke="#d4909a" stroke-width="1"/><rect x="977.50" y="575.80" width="26.00" height="10.30" fill="#fde3e3" stroke="#d4909a" stroke-width="1"/><rect x="1055.80" y="575.80" width="69.70" height="10.30" fill="#fde3e3" stroke="#d4909a" stroke-width="1"/><rect x="568.50" y="575.90" width="66.47" height="10.10" fill="#e6d6e6" stroke="#8e7088" stroke-width="0.85"/><text x="568.50" y="583.80" font-family="Liberation Sans" font-size="8.8" font-weight="normal" font-style="normal" fill="#54465a" textLength="65.97" lengthAdjust="spacingAndGlyphs">Absence of caries</text><rect x="725.30" y="575.90" width="16.65" height="10.10" fill="#e6d6e6" stroke="#8e7088" stroke-width="0.85"/><text x="725.30" y="583.80" font-family="Liberation Sans" font-size="8.8" font-weight="normal" font-style="normal" fill="#54465a" textLength="16.15" lengthAdjust="spacingAndGlyphs">1.00</text><rect x="897.00" y="575.90" width="3.26" height="10.10" fill="#e6d6e6" stroke="#8e7088" stroke-width="0.85"/><text x="897.00" y="583.80" font-family="Liberation Sans" font-size="8.8" font-weight="normal" font-style="normal" fill="#54465a" textLength="2.76" lengthAdjust="spacingAndGlyphs">-</text><rect x="977.00" y="575.90" width="3.26" height="10.10" fill="#e6d6e6" stroke="#8e7088" stroke-width="0.85"/><text x="977.00" y="583.80" font-family="Liberation Sans" font-size="8.8" font-weight="normal" font-style="normal" fill="#54465a" textLength="2.76" lengthAdjust="spacingAndGlyphs">-</text><rect x="1055.30" y="575.90" width="3.26" height="10.10" fill="#e6d6e6" stroke="#8e7088" stroke-width="0.85"/><text x="1055.30" y="583.80" font-family="Liberation Sans" font-size="8.8" font-weight="normal" font-style="normal" fill="#54465a" textLength="2.76" lengthAdjust="spacingAndGlyphs">-</text><rect x="559.50" y="592.80" width="114.00" height="10.40" fill="#fde3e3" stroke="#d4909a" stroke-width="1"/><rect x="725.80" y="592.80" width="119.40" height="10.40" fill="#fde3e3" stroke="#d4909a" stroke-width="1"/><rect x="897.50" y="592.80" width="27.50" height="10.40" fill="#fde3e3" stroke="#d4909a" stroke-width="1"/><rect x="977.50" y="592.80" width="26.00" height="10.40" fill="#fde3e3" stroke="#d4909a" stroke-width="1"/><rect x="1055.80" y="592.80" width="69.70" height="10.40" fill="#fde3e3" stroke="#d4909a" stroke-width="1"/><rect x="568.50" y="592.90" width="69.23" height="10.20" fill="#e6d6e6" stroke="#8e7088" stroke-width="0.85"/><text x="568.50" y="600.80" font-family="Liberation Sans" font-size="8.8" font-weight="normal" font-style="normal" fill="#54465a" textLength="68.73" lengthAdjust="spacingAndGlyphs">Presence of caries</text><rect x="725.30" y="592.90" width="21.27" height="10.20" fill="#e6d6e6" stroke="#8e7088" stroke-width="0.85"/><text x="725.30" y="600.80" font-family="Liberation Sans" font-size="8.8" font-weight="normal" font-style="normal" fill="#54465a" textLength="20.77" lengthAdjust="spacingAndGlyphs">0.005</text><rect x="897.00" y="592.90" width="16.65" height="10.20" fill="#e6d6e6" stroke="#8e7088" stroke-width="0.85"/><text x="897.00" y="600.80" font-family="Liberation Sans" font-size="8.8" font-weight="normal" font-style="normal" fill="#54465a" textLength="16.15" lengthAdjust="spacingAndGlyphs">0.02</text><rect x="977.00" y="592.90" width="16.65" height="10.20" fill="#e6d6e6" stroke="#8e7088" stroke-width="0.85"/><text x="977.00" y="600.80" font-family="Liberation Sans" font-size="8.8" font-weight="normal" font-style="normal" fill="#54465a" textLength="16.15" lengthAdjust="spacingAndGlyphs">0.77</text><rect x="1055.30" y="592.90" width="46.88" height="10.20" fill="#e6d6e6" stroke="#8e7088" stroke-width="0.85"/><text x="1055.30" y="600.80" font-family="Liberation Sans" font-size="8.8" font-weight="normal" font-style="normal" fill="#54465a" textLength="46.38" lengthAdjust="spacingAndGlyphs">−0.03 – 0.04</text><rect x="559.60" y="610.10" width="566.40" height="10.20" fill="#d5f8d5" stroke="#2e7d3a" stroke-width="1.6"/><rect x="559.00" y="610.30" width="28.18" height="9.40" fill="#c4eac4" stroke="#3c7a4c" stroke-width="0.8"/><text x="559.00" y="617.80" font-family="Liberation Sans" font-size="8.8" font-weight="normal" font-style="normal" fill="#54465a" textLength="27.68" lengthAdjust="spacingAndGlyphs">Gender</text><rect x="559.50" y="627.30" width="114.00" height="10.70" fill="#fde3e3" stroke="#d4909a" stroke-width="1"/><rect x="725.80" y="627.30" width="119.40" height="10.70" fill="#fde3e3" stroke="#d4909a" stroke-width="1"/><rect x="897.50" y="627.30" width="27.50" height="10.70" fill="#fde3e3" stroke="#d4909a" stroke-width="1"/><rect x="977.50" y="627.30" width="26.00" height="10.70" fill="#fde3e3" stroke="#d4909a" stroke-width="1"/><rect x="1055.80" y="627.30" width="69.70" height="10.70" fill="#fde3e3" stroke="#d4909a" stroke-width="1"/><rect x="568.50" y="627.40" width="18.49" height="10.50" fill="#e6d6e6" stroke="#8e7088" stroke-width="0.85"/><text x="568.50" y="635.30" font-family="Liberation Sans" font-size="8.8" font-weight="normal" font-style="normal" fill="#54465a" textLength="17.99" lengthAdjust="spacingAndGlyphs">Male</text><rect x="725.30" y="627.40" width="16.65" height="10.50" fill="#e6d6e6" stroke="#8e7088" stroke-width="0.85"/><text x="725.30" y="635.30" font-family="Liberation Sans" font-size="8.8" font-weight="normal" font-style="normal" fill="#54465a" textLength="16.15" lengthAdjust="spacingAndGlyphs">1.00</text><rect x="897.00" y="627.40" width="3.26" height="10.50" fill="#e6d6e6" stroke="#8e7088" stroke-width="0.85"/><text x="897.00" y="635.30" font-family="Liberation Sans" font-size="8.8" font-weight="normal" font-style="normal" fill="#54465a" textLength="2.76" lengthAdjust="spacingAndGlyphs">-</text><rect x="977.00" y="627.40" width="3.26" height="10.50" fill="#e6d6e6" stroke="#8e7088" stroke-width="0.85"/><text x="977.00" y="635.30" font-family="Liberation Sans" font-size="8.8" font-weight="normal" font-style="normal" fill="#54465a" textLength="2.76" lengthAdjust="spacingAndGlyphs">-</text><rect x="1055.30" y="627.40" width="3.26" height="10.50" fill="#e6d6e6" stroke="#8e7088" stroke-width="0.85"/><text x="1055.30" y="635.30" font-family="Liberation Sans" font-size="8.8" font-weight="normal" font-style="normal" fill="#54465a" textLength="2.76" lengthAdjust="spacingAndGlyphs">-</text><rect x="559.50" y="644.80" width="114.00" height="10.70" fill="#fde3e3" stroke="#d4909a" stroke-width="1"/><rect x="725.80" y="644.80" width="119.40" height="10.70" fill="#fde3e3" stroke="#d4909a" stroke-width="1"/><rect x="897.50" y="644.80" width="27.50" height="10.70" fill="#fde3e3" stroke="#d4909a" stroke-width="1"/><rect x="977.50" y="644.80" width="26.00" height="10.70" fill="#fde3e3" stroke="#d4909a" stroke-width="1"/><rect x="1055.80" y="644.80" width="69.70" height="10.70" fill="#fde3e3" stroke="#d4909a" stroke-width="1"/><rect x="568.50" y="644.90" width="28.17" height="10.50" fill="#e6d6e6" stroke="#8e7088" stroke-width="0.85"/><text x="568.50" y="652.80" font-family="Liberation Sans" font-size="8.8" font-weight="normal" font-style="normal" fill="#54465a" textLength="27.67" lengthAdjust="spacingAndGlyphs">Female</text><rect x="725.30" y="644.90" width="26.12" height="10.50" fill="#e6d6e6" stroke="#8e7088" stroke-width="0.85"/><text x="725.30" y="652.80" font-family="Liberation Sans" font-size="8.8" font-weight="normal" font-style="normal" fill="#54465a" textLength="25.62" lengthAdjust="spacingAndGlyphs">−0.006</text><rect x="897.00" y="644.90" width="16.65" height="10.50" fill="#e6d6e6" stroke="#8e7088" stroke-width="0.85"/><text x="897.00" y="652.80" font-family="Liberation Sans" font-size="8.8" font-weight="normal" font-style="normal" fill="#54465a" textLength="16.15" lengthAdjust="spacingAndGlyphs">0.01</text><rect x="977.00" y="644.90" width="16.65" height="10.50" fill="#e6d6e6" stroke="#8e7088" stroke-width="0.85"/><text x="977.00" y="652.80" font-family="Liberation Sans" font-size="8.8" font-weight="normal" font-style="normal" fill="#54465a" textLength="16.15" lengthAdjust="spacingAndGlyphs">0.64</text><rect x="1055.30" y="644.90" width="46.88" height="10.50" fill="#e6d6e6" stroke="#8e7088" stroke-width="0.85"/><text x="1055.30" y="652.80" font-family="Liberation Sans" font-size="8.8" font-weight="normal" font-style="normal" fill="#54465a" textLength="46.38" lengthAdjust="spacingAndGlyphs">−0.03 – 0.02</text><rect x="559.60" y="662.40" width="566.40" height="9.60" fill="#d5f8d5" stroke="#2e7d3a" stroke-width="1.6"/><rect x="559.00" y="662.60" width="81.23" height="8.80" fill="#c4eac4" stroke="#3c7a4c" stroke-width="0.8"/><text x="559.00" y="670.10" font-family="Liberation Sans" font-size="8.8" font-weight="normal" font-style="normal" fill="#54465a" textLength="80.73" lengthAdjust="spacingAndGlyphs">Socioeconomic status</text><rect x="559.50" y="679.10" width="114.00" height="10.40" fill="#fde3e3" stroke="#d4909a" stroke-width="1"/><rect x="725.80" y="679.10" width="119.40" height="10.40" fill="#fde3e3" stroke="#d4909a" stroke-width="1"/><rect x="897.50" y="679.10" width="27.50" height="10.40" fill="#fde3e3" stroke="#d4909a" stroke-width="1"/><rect x="977.50" y="679.10" width="26.00" height="10.40" fill="#fde3e3" stroke="#d4909a" stroke-width="1"/><rect x="1055.80" y="679.10" width="69.70" height="10.40" fill="#fde3e3" stroke="#d4909a" stroke-width="1"/><rect x="568.50" y="679.20" width="95.99" height="10.20" fill="#e6d6e6" stroke="#8e7088" stroke-width="0.85"/><text x="568.50" y="687.10" font-family="Liberation Sans" font-size="8.8" font-weight="normal" font-style="normal" fill="#54465a" textLength="95.49" lengthAdjust="spacingAndGlyphs">High socioeconomic class</text><rect x="725.30" y="679.20" width="16.65" height="10.20" fill="#e6d6e6" stroke="#8e7088" stroke-width="0.85"/><text x="725.30" y="687.10" font-family="Liberation Sans" font-size="8.8" font-weight="normal" font-style="normal" fill="#54465a" textLength="16.15" lengthAdjust="spacingAndGlyphs">1.00</text><rect x="897.00" y="679.20" width="3.26" height="10.20" fill="#e6d6e6" stroke="#8e7088" stroke-width="0.85"/><text x="897.00" y="687.10" font-family="Liberation Sans" font-size="8.8" font-weight="normal" font-style="normal" fill="#54465a" textLength="2.76" lengthAdjust="spacingAndGlyphs">-</text><rect x="977.00" y="679.20" width="3.26" height="10.20" fill="#e6d6e6" stroke="#8e7088" stroke-width="0.85"/><text x="977.00" y="687.10" font-family="Liberation Sans" font-size="8.8" font-weight="normal" font-style="normal" fill="#54465a" textLength="2.76" lengthAdjust="spacingAndGlyphs">-</text><rect x="1055.30" y="679.20" width="3.26" height="10.20" fill="#e6d6e6" stroke="#8e7088" stroke-width="0.85"/><text x="1055.30" y="687.10" font-family="Liberation Sans" font-size="8.8" font-weight="normal" font-style="normal" fill="#54465a" textLength="2.76" lengthAdjust="spacingAndGlyphs">-</text><rect x="559.50" y="696.10" width="114.00" height="10.40" fill="#fde3e3" stroke="#d4909a" stroke-width="1"/><rect x="725.80" y="696.10" width="119.40" height="10.40" fill="#fde3e3" stroke="#d4909a" stroke-width="1"/><rect x="897.50" y="696.10" width="27.50" height="10.40" fill="#fde3e3" stroke="#d4909a" stroke-width="1"/><rect x="977.50" y="696.10" width="26.00" height="10.40" fill="#fde3e3" stroke="#d4909a" stroke-width="1"/><rect x="1055.80" y="696.10" width="69.70" height="10.40" fill="#fde3e3" stroke="#d4909a" stroke-width="1"/><rect x="568.50" y="696.20" width="103.37" height="10.20" fill="#e6d6e6" stroke="#8e7088" stroke-width="0.85"/><text x="568.50" y="704.10" font-family="Liberation Sans" font-size="8.8" font-weight="normal" font-style="normal" fill="#54465a" textLength="102.87" lengthAdjust="spacingAndGlyphs">Middle socioeconomic class</text><rect x="725.30" y="696.20" width="26.12" height="10.20" fill="#e6d6e6" stroke="#8e7088" stroke-width="0.85"/><text x="725.30" y="704.10" font-family="Liberation Sans" font-size="8.8" font-weight="normal" font-style="normal" fill="#54465a" textLength="25.62" lengthAdjust="spacingAndGlyphs">−0.001</text><rect x="897.00" y="696.20" width="16.65" height="10.20" fill="#e6d6e6" stroke="#8e7088" stroke-width="0.85"/><text x="897.00" y="704.10" font-family="Liberation Sans" font-size="8.8" font-weight="normal" font-style="normal" fill="#54465a" textLength="16.15" lengthAdjust="spacingAndGlyphs">0.02</text><rect x="977.00" y="696.20" width="16.65" height="10.20" fill="#e6d6e6" stroke="#8e7088" stroke-width="0.85"/><text x="977.00" y="704.10" font-family="Liberation Sans" font-size="8.8" font-weight="normal" font-style="normal" fill="#54465a" textLength="16.15" lengthAdjust="spacingAndGlyphs">0.95</text><rect x="1055.30" y="696.20" width="46.88" height="10.20" fill="#e6d6e6" stroke="#8e7088" stroke-width="0.85"/><text x="1055.30" y="704.10" font-family="Liberation Sans" font-size="8.8" font-weight="normal" font-style="normal" fill="#54465a" textLength="46.38" lengthAdjust="spacingAndGlyphs">−0.03 – 0.03</text><rect x="559.50" y="713.50" width="114.00" height="10.70" fill="#fde3e3" stroke="#d4909a" stroke-width="1"/><rect x="725.80" y="713.50" width="119.40" height="10.70" fill="#fde3e3" stroke="#d4909a" stroke-width="1"/><rect x="897.50" y="713.50" width="27.50" height="10.70" fill="#fde3e3" stroke="#d4909a" stroke-width="1"/><rect x="977.50" y="713.50" width="26.00" height="10.70" fill="#fde3e3" stroke="#d4909a" stroke-width="1"/><rect x="1055.80" y="713.50" width="69.70" height="10.70" fill="#fde3e3" stroke="#d4909a" stroke-width="1"/><rect x="568.50" y="713.60" width="94.14" height="10.50" fill="#e6d6e6" stroke="#8e7088" stroke-width="0.85"/><text x="568.50" y="721.50" font-family="Liberation Sans" font-size="8.8" font-weight="normal" font-style="normal" fill="#54465a" textLength="93.64" lengthAdjust="spacingAndGlyphs">Low socioeconomic class</text><rect x="725.30" y="713.60" width="26.12" height="10.50" fill="#e6d6e6" stroke="#8e7088" stroke-width="0.85"/><text x="725.30" y="721.50" font-family="Liberation Sans" font-size="8.8" font-weight="normal" font-style="normal" fill="#54465a" textLength="25.62" lengthAdjust="spacingAndGlyphs">−0.007</text><rect x="897.00" y="713.60" width="16.65" height="10.50" fill="#e6d6e6" stroke="#8e7088" stroke-width="0.85"/><text x="897.00" y="721.50" font-family="Liberation Sans" font-size="8.8" font-weight="normal" font-style="normal" fill="#54465a" textLength="16.15" lengthAdjust="spacingAndGlyphs">0.02</text><rect x="977.00" y="713.60" width="16.65" height="10.50" fill="#e6d6e6" stroke="#8e7088" stroke-width="0.85"/><text x="977.00" y="721.50" font-family="Liberation Sans" font-size="8.8" font-weight="normal" font-style="normal" fill="#54465a" textLength="16.15" lengthAdjust="spacingAndGlyphs">0.68</text><rect x="1055.30" y="713.60" width="46.88" height="10.50" fill="#e6d6e6" stroke="#8e7088" stroke-width="0.85"/><text x="1055.30" y="721.50" font-family="Liberation Sans" font-size="8.8" font-weight="normal" font-style="normal" fill="#54465a" textLength="46.38" lengthAdjust="spacingAndGlyphs">−0.04 – 0.03</text><line x1="554.50" y1="468.00" x2="1131.00" y2="468.00" stroke="#8a8a8a" stroke-width="1.3"/><line x1="554.50" y1="468.00" x2="554.50" y2="728.50" stroke="#7a7a7a" stroke-width="1"/><line x1="1131.00" y1="468.00" x2="1131.00" y2="728.50" stroke="#c4c4c4" stroke-width="1.2"/><line x1="554.50" y1="728.50" x2="1131.00" y2="728.50" stroke="#6a6a6a" stroke-width="1.3"/><rect x="1184.30" y="316.80" width="574.40" height="250.50" fill="#fff" stroke="none" stroke-width="1"/><line x1="1188.70" y1="319.30" x2="1754.20" y2="319.30" stroke="#b0b0b0" stroke-width="0.8"/><line x1="1188.70" y1="334.80" x2="1754.20" y2="334.80" stroke="#909090" stroke-width="0.8"/><rect x="1188.70" y="321.30" width="115.00" height="11.10" fill="#ffd2ff" stroke="#c040c8" stroke-width="1.2"/><rect x="1354.30" y="321.30" width="120.20" height="11.10" fill="#ffd2ff" stroke="#c040c8" stroke-width="1.2"/><rect x="1525.50" y="321.30" width="28.50" height="11.10" fill="#ffd2ff" stroke="#c040c8" stroke-width="1.2"/><rect x="1605.00" y="321.30" width="27.30" height="11.10" fill="#ffd2ff" stroke="#c040c8" stroke-width="1.2"/><rect x="1683.30" y="321.30" width="70.90" height="11.10" fill="#ffd2ff" stroke="#c040c8" stroke-width="1.2"/><text x="1189.70" y="329.50" font-family="Liberation Sans" font-size="8.8" font-weight="normal" font-style="normal" fill="#4a4a5a" textLength="33.98" lengthAdjust="spacingAndGlyphs">Variables</text><text x="1355.30" y="329.50" font-family="Liberation Sans" font-size="8.8" font-weight="normal" font-style="normal" fill="#4a4a5a" textLength="119.94" lengthAdjust="spacingAndGlyphs">Adjusted Prevalence Ratio (APR</text><text x="1526.50" y="329.50" font-family="Liberation Sans" font-size="8.8" font-weight="normal" font-style="normal" fill="#4a4a5a" textLength="28.13" lengthAdjust="spacingAndGlyphs">Std. Err</text><text x="1606.00" y="329.50" font-family="Liberation Sans" font-size="8.8" font-weight="normal" font-style="normal" fill="#4a4a5a" textLength="27.53" lengthAdjust="spacingAndGlyphs">P value</text><text x="1684.30" y="329.50" font-family="Liberation Sans" font-size="8.8" font-weight="normal" font-style="normal" fill="#4a4a5a" textLength="68.74" lengthAdjust="spacingAndGlyphs">95 % Conf. Interva</text><rect x="1188.70" y="337.30" width="565.50" height="10.50" fill="#d9f6f6" stroke="#45b3b5" stroke-width="1.3"/><text x="1189.70" y="345.50" font-family="Liberation Sans" font-size="8.8" font-weight="normal" font-style="normal" fill="#4a4a5a" textLength="71.51" lengthAdjust="spacingAndGlyphs">Oral hygiene status</text><rect x="1188.70" y="353.82" width="115.00" height="10.50" fill="#ebebeb" stroke="none" stroke-width="1"/><rect x="1354.30" y="353.82" width="120.20" height="10.50" fill="#ebebeb" stroke="none" stroke-width="1"/><rect x="1525.50" y="353.82" width="28.50" height="10.50" fill="#ebebeb" stroke="none" stroke-width="1"/><rect x="1605.00" y="353.82" width="27.30" height="10.50" fill="#ebebeb" stroke="none" stroke-width="1"/><rect x="1683.30" y="353.82" width="70.90" height="10.50" fill="#ebebeb" stroke="none" stroke-width="1"/><text x="1199.00" y="362.02" font-family="Liberation Sans" font-size="8.8" font-weight="normal" font-style="normal" fill="#606060" textLength="92.27" lengthAdjust="spacingAndGlyphs">Good oral hygiene status</text><text x="1355.30" y="362.02" font-family="Liberation Sans" font-size="8.8" font-weight="normal" font-style="normal" fill="#606060" textLength="16.15" lengthAdjust="spacingAndGlyphs">1.00</text><text x="1526.50" y="362.02" font-family="Liberation Sans" font-size="8.8" font-weight="normal" font-style="normal" fill="#606060" textLength="2.76" lengthAdjust="spacingAndGlyphs">-</text><text x="1606.00" y="362.02" font-family="Liberation Sans" font-size="8.8" font-weight="normal" font-style="normal" fill="#606060" textLength="2.76" lengthAdjust="spacingAndGlyphs">-</text><text x="1684.30" y="362.02" font-family="Liberation Sans" font-size="8.8" font-weight="normal" font-style="normal" fill="#606060" textLength="2.76" lengthAdjust="spacingAndGlyphs">-</text><rect x="1188.70" y="370.34" width="115.00" height="10.50" fill="#ebebeb" stroke="none" stroke-width="1"/><rect x="1354.30" y="370.34" width="120.20" height="10.50" fill="#ebebeb" stroke="none" stroke-width="1"/><rect x="1525.50" y="370.34" width="28.50" height="10.50" fill="#ebebeb" stroke="none" stroke-width="1"/><rect x="1605.00" y="370.34" width="27.30" height="10.50" fill="#ebebeb" stroke="none" stroke-width="1"/><rect x="1683.30" y="370.34" width="70.90" height="10.50" fill="#ebebeb" stroke="none" stroke-width="1"/><text x="1199.00" y="378.54" font-family="Liberation Sans" font-size="8.8" font-weight="normal" font-style="normal" fill="#606060" textLength="86.26" lengthAdjust="spacingAndGlyphs">Fair oral hygiene status</text><text x="1355.30" y="378.54" font-family="Liberation Sans" font-size="8.8" font-weight="normal" font-style="normal" fill="#606060" textLength="16.15" lengthAdjust="spacingAndGlyphs">0.02</text><text x="1526.50" y="378.54" font-family="Liberation Sans" font-size="8.8" font-weight="normal" font-style="normal" fill="#606060" textLength="16.15" lengthAdjust="spacingAndGlyphs">0.02</text><text x="1606.00" y="378.54" font-family="Liberation Sans" font-size="8.8" font-weight="normal" font-style="normal" fill="#606060" textLength="16.15" lengthAdjust="spacingAndGlyphs">0.14</text><text x="1684.30" y="378.54" font-family="Liberation Sans" font-size="8.8" font-weight="normal" font-style="normal" fill="#606060" textLength="49.14" lengthAdjust="spacingAndGlyphs">−0.007 - 0.05</text><rect x="1188.70" y="386.86" width="115.00" height="10.50" fill="#ebebeb" stroke="none" stroke-width="1"/><rect x="1354.30" y="386.86" width="120.20" height="10.50" fill="#ebebeb" stroke="none" stroke-width="1"/><rect x="1525.50" y="386.86" width="28.50" height="10.50" fill="#ebebeb" stroke="none" stroke-width="1"/><rect x="1605.00" y="386.86" width="27.30" height="10.50" fill="#ebebeb" stroke="none" stroke-width="1"/><rect x="1683.30" y="386.86" width="70.90" height="10.50" fill="#ebebeb" stroke="none" stroke-width="1"/><text x="1199.00" y="395.06" font-family="Liberation Sans" font-size="8.8" font-weight="normal" font-style="normal" fill="#606060" textLength="89.50" lengthAdjust="spacingAndGlyphs">Poor oral hygiene status</text><text x="1355.30" y="395.06" font-family="Liberation Sans" font-size="8.8" font-weight="normal" font-style="normal" fill="#606060" textLength="16.15" lengthAdjust="spacingAndGlyphs">0.07</text><text x="1526.50" y="395.06" font-family="Liberation Sans" font-size="8.8" font-weight="normal" font-style="normal" fill="#606060" textLength="16.15" lengthAdjust="spacingAndGlyphs">0.03</text><text x="1606.00" y="395.06" font-family="Liberation Sans" font-size="8.8" font-weight="normal" font-style="normal" fill="#606060" textLength="20.77" lengthAdjust="spacingAndGlyphs">0.002</text><text x="1684.30" y="395.06" font-family="Liberation Sans" font-size="8.8" font-weight="normal" font-style="normal" fill="#606060" textLength="41.53" lengthAdjust="spacingAndGlyphs">0.03 – 0.12</text><rect x="1188.70" y="403.38" width="565.50" height="10.50" fill="#d9f6f6" stroke="#45b3b5" stroke-width="1.3"/><text x="1189.70" y="411.58" font-family="Liberation Sans" font-size="8.8" font-weight="normal" font-style="normal" fill="#4a4a5a" textLength="48.43" lengthAdjust="spacingAndGlyphs">Caries status</text><rect x="1188.70" y="419.90" width="115.00" height="10.50" fill="#ebebeb" stroke="none" stroke-width="1"/><rect x="1354.30" y="419.90" width="120.20" height="10.50" fill="#ebebeb" stroke="none" stroke-width="1"/><rect x="1525.50" y="419.90" width="28.50" height="10.50" fill="#ebebeb" stroke="none" stroke-width="1"/><rect x="1605.00" y="419.90" width="27.30" height="10.50" fill="#ebebeb" stroke="none" stroke-width="1"/><rect x="1683.30" y="419.90" width="70.90" height="10.50" fill="#ebebeb" stroke="none" stroke-width="1"/><text x="1199.00" y="428.10" font-family="Liberation Sans" font-size="8.8" font-weight="normal" font-style="normal" fill="#606060" textLength="65.97" lengthAdjust="spacingAndGlyphs">Absence of caries</text><text x="1355.30" y="428.10" font-family="Liberation Sans" font-size="8.8" font-weight="normal" font-style="normal" fill="#606060" textLength="16.15" lengthAdjust="spacingAndGlyphs">1.00</text><text x="1526.50" y="428.10" font-family="Liberation Sans" font-size="8.8" font-weight="normal" font-style="normal" fill="#606060" textLength="2.76" lengthAdjust="spacingAndGlyphs">-</text><text x="1606.00" y="428.10" font-family="Liberation Sans" font-size="8.8" font-weight="normal" font-style="normal" fill="#606060" textLength="2.76" lengthAdjust="spacingAndGlyphs">-</text><text x="1684.30" y="428.10" font-family="Liberation Sans" font-size="8.8" font-weight="normal" font-style="normal" fill="#606060" textLength="2.76" lengthAdjust="spacingAndGlyphs">-</text><rect x="1188.70" y="436.42" width="115.00" height="10.50" fill="#ebebeb" stroke="none" stroke-width="1"/><rect x="1354.30" y="436.42" width="120.20" height="10.50" fill="#ebebeb" stroke="none" stroke-width="1"/><rect x="1525.50" y="436.42" width="28.50" height="10.50" fill="#ebebeb" stroke="none" stroke-width="1"/><rect x="1605.00" y="436.42" width="27.30" height="10.50" fill="#ebebeb" stroke="none" stroke-width="1"/><rect x="1683.30" y="436.42" width="70.90" height="10.50" fill="#ebebeb" stroke="none" stroke-width="1"/><text x="1199.00" y="444.62" font-family="Liberation Sans" font-size="8.8" font-weight="normal" font-style="normal" fill="#606060" textLength="68.73" lengthAdjust="spacingAndGlyphs">Presence of caries</text><text x="1355.30" y="444.62" font-family="Liberation Sans" font-size="8.8" font-weight="normal" font-style="normal" fill="#606060" textLength="20.77" lengthAdjust="spacingAndGlyphs">0.005</text><text x="1526.50" y="444.62" font-family="Liberation Sans" font-size="8.8" font-weight="normal" font-style="normal" fill="#606060" textLength="16.15" lengthAdjust="spacingAndGlyphs">0.02</text><text x="1606.00" y="444.62" font-family="Liberation Sans" font-size="8.8" font-weight="normal" font-style="normal" fill="#606060" textLength="16.15" lengthAdjust="spacingAndGlyphs">0.77</text><text x="1684.30" y="444.62" font-family="Liberation Sans" font-size="8.8" font-weight="normal" font-style="normal" fill="#606060" textLength="46.38" lengthAdjust="spacingAndGlyphs">−0.03 – 0.04</text><rect x="1188.70" y="452.94" width="565.50" height="10.50" fill="#d9f6f6" stroke="#45b3b5" stroke-width="1.3"/><text x="1189.70" y="461.14" font-family="Liberation Sans" font-size="8.8" font-weight="normal" font-style="normal" fill="#4a4a5a" textLength="27.68" lengthAdjust="spacingAndGlyphs">Gender</text><rect x="1188.70" y="469.46" width="115.00" height="10.50" fill="#ebebeb" stroke="none" stroke-width="1"/><rect x="1354.30" y="469.46" width="120.20" height="10.50" fill="#ebebeb" stroke="none" stroke-width="1"/><rect x="1525.50" y="469.46" width="28.50" height="10.50" fill="#ebebeb" stroke="none" stroke-width="1"/><rect x="1605.00" y="469.46" width="27.30" height="10.50" fill="#ebebeb" stroke="none" stroke-width="1"/><rect x="1683.30" y="469.46" width="70.90" height="10.50" fill="#ebebeb" stroke="none" stroke-width="1"/><text x="1199.00" y="477.66" font-family="Liberation Sans" font-size="8.8" font-weight="normal" font-style="normal" fill="#606060" textLength="17.99" lengthAdjust="spacingAndGlyphs">Male</text><text x="1355.30" y="477.66" font-family="Liberation Sans" font-size="8.8" font-weight="normal" font-style="normal" fill="#606060" textLength="16.15" lengthAdjust="spacingAndGlyphs">1.00</text><text x="1526.50" y="477.66" font-family="Liberation Sans" font-size="8.8" font-weight="normal" font-style="normal" fill="#606060" textLength="2.76" lengthAdjust="spacingAndGlyphs">-</text><text x="1606.00" y="477.66" font-family="Liberation Sans" font-size="8.8" font-weight="normal" font-style="normal" fill="#606060" textLength="2.76" lengthAdjust="spacingAndGlyphs">-</text><text x="1684.30" y="477.66" font-family="Liberation Sans" font-size="8.8" font-weight="normal" font-style="normal" fill="#606060" textLength="2.76" lengthAdjust="spacingAndGlyphs">-</text><rect x="1188.70" y="485.98" width="115.00" height="10.50" fill="#ebebeb" stroke="none" stroke-width="1"/><rect x="1354.30" y="485.98" width="120.20" height="10.50" fill="#ebebeb" stroke="none" stroke-width="1"/><rect x="1525.50" y="485.98" width="28.50" height="10.50" fill="#ebebeb" stroke="none" stroke-width="1"/><rect x="1605.00" y="485.98" width="27.30" height="10.50" fill="#ebebeb" stroke="none" stroke-width="1"/><rect x="1683.30" y="485.98" width="70.90" height="10.50" fill="#ebebeb" stroke="none" stroke-width="1"/><text x="1199.00" y="494.18" font-family="Liberation Sans" font-size="8.8" font-weight="normal" font-style="normal" fill="#606060" textLength="27.67" lengthAdjust="spacingAndGlyphs">Female</text><text x="1355.30" y="494.18" font-family="Liberation Sans" font-size="8.8" font-weight="normal" font-style="normal" fill="#606060" textLength="25.62" lengthAdjust="spacingAndGlyphs">−0.006</text><text x="1526.50" y="494.18" font-family="Liberation Sans" font-size="8.8" font-weight="normal" font-style="normal" fill="#606060" textLength="16.15" lengthAdjust="spacingAndGlyphs">0.01</text><text x="1606.00" y="494.18" font-family="Liberation Sans" font-size="8.8" font-weight="normal" font-style="normal" fill="#606060" textLength="16.15" lengthAdjust="spacingAndGlyphs">0.64</text><text x="1684.30" y="494.18" font-family="Liberation Sans" font-size="8.8" font-weight="normal" font-style="normal" fill="#606060" textLength="46.38" lengthAdjust="spacingAndGlyphs">−0.03 – 0.02</text><rect x="1188.70" y="502.50" width="565.50" height="10.50" fill="#d9f6f6" stroke="#45b3b5" stroke-width="1.3"/><text x="1189.70" y="510.70" font-family="Liberation Sans" font-size="8.8" font-weight="normal" font-style="normal" fill="#4a4a5a" textLength="80.73" lengthAdjust="spacingAndGlyphs">Socioeconomic status</text><rect x="1188.70" y="519.02" width="115.00" height="10.50" fill="#ebebeb" stroke="none" stroke-width="1"/><rect x="1354.30" y="519.02" width="120.20" height="10.50" fill="#ebebeb" stroke="none" stroke-width="1"/><rect x="1525.50" y="519.02" width="28.50" height="10.50" fill="#ebebeb" stroke="none" stroke-width="1"/><rect x="1605.00" y="519.02" width="27.30" height="10.50" fill="#ebebeb" stroke="none" stroke-width="1"/><rect x="1683.30" y="519.02" width="70.90" height="10.50" fill="#ebebeb" stroke="none" stroke-width="1"/><text x="1199.00" y="527.22" font-family="Liberation Sans" font-size="8.8" font-weight="normal" font-style="normal" fill="#606060" textLength="95.49" lengthAdjust="spacingAndGlyphs">High socioeconomic class</text><text x="1355.30" y="527.22" font-family="Liberation Sans" font-size="8.8" font-weight="normal" font-style="normal" fill="#606060" textLength="16.15" lengthAdjust="spacingAndGlyphs">1.00</text><text x="1526.50" y="527.22" font-family="Liberation Sans" font-size="8.8" font-weight="normal" font-style="normal" fill="#606060" textLength="2.76" lengthAdjust="spacingAndGlyphs">-</text><text x="1606.00" y="527.22" font-family="Liberation Sans" font-size="8.8" font-weight="normal" font-style="normal" fill="#606060" textLength="2.76" lengthAdjust="spacingAndGlyphs">-</text><text x="1684.30" y="527.22" font-family="Liberation Sans" font-size="8.8" font-weight="normal" font-style="normal" fill="#606060" textLength="2.76" lengthAdjust="spacingAndGlyphs">-</text><rect x="1188.70" y="535.54" width="115.00" height="10.50" fill="#ebebeb" stroke="none" stroke-width="1"/><rect x="1354.30" y="535.54" width="120.20" height="10.50" fill="#ebebeb" stroke="none" stroke-width="1"/><rect x="1525.50" y="535.54" width="28.50" height="10.50" fill="#ebebeb" stroke="none" stroke-width="1"/><rect x="1605.00" y="535.54" width="27.30" height="10.50" fill="#ebebeb" stroke="none" stroke-width="1"/><rect x="1683.30" y="535.54" width="70.90" height="10.50" fill="#ebebeb" stroke="none" stroke-width="1"/><text x="1199.00" y="543.74" font-family="Liberation Sans" font-size="8.8" font-weight="normal" font-style="normal" fill="#606060" textLength="102.87" lengthAdjust="spacingAndGlyphs">Middle socioeconomic class</text><text x="1355.30" y="543.74" font-family="Liberation Sans" font-size="8.8" font-weight="normal" font-style="normal" fill="#606060" textLength="25.62" lengthAdjust="spacingAndGlyphs">−0.001</text><text x="1526.50" y="543.74" font-family="Liberation Sans" font-size="8.8" font-weight="normal" font-style="normal" fill="#606060" textLength="16.15" lengthAdjust="spacingAndGlyphs">0.02</text><text x="1606.00" y="543.74" font-family="Liberation Sans" font-size="8.8" font-weight="normal" font-style="normal" fill="#606060" textLength="16.15" lengthAdjust="spacingAndGlyphs">0.95</text><text x="1684.30" y="543.74" font-family="Liberation Sans" font-size="8.8" font-weight="normal" font-style="normal" fill="#606060" textLength="46.38" lengthAdjust="spacingAndGlyphs">−0.03 – 0.03</text><rect x="1188.70" y="552.06" width="115.00" height="10.50" fill="#ebebeb" stroke="none" stroke-width="1"/><rect x="1354.30" y="552.06" width="120.20" height="10.50" fill="#ebebeb" stroke="none" stroke-width="1"/><rect x="1525.50" y="552.06" width="28.50" height="10.50" fill="#ebebeb" stroke="none" stroke-width="1"/><rect x="1605.00" y="552.06" width="27.30" height="10.50" fill="#ebebeb" stroke="none" stroke-width="1"/><rect x="1683.30" y="552.06" width="70.90" height="10.50" fill="#ebebeb" stroke="none" stroke-width="1"/><text x="1199.00" y="560.26" font-family="Liberation Sans" font-size="8.8" font-weight="normal" font-style="normal" fill="#606060" textLength="93.64" lengthAdjust="spacingAndGlyphs">Low socioeconomic class</text><text x="1355.30" y="560.26" font-family="Liberation Sans" font-size="8.8" font-weight="normal" font-style="normal" fill="#606060" textLength="25.62" lengthAdjust="spacingAndGlyphs">−0.007</text><text x="1526.50" y="560.26" font-family="Liberation Sans" font-size="8.8" font-weight="normal" font-style="normal" fill="#606060" textLength="16.15" lengthAdjust="spacingAndGlyphs">0.02</text><text x="1606.00" y="560.26" font-family="Liberation Sans" font-size="8.8" font-weight="normal" font-style="normal" fill="#606060" textLength="16.15" lengthAdjust="spacingAndGlyphs">0.68</text><text x="1684.30" y="560.26" font-family="Liberation Sans" font-size="8.8" font-weight="normal" font-style="normal" fill="#606060" textLength="46.38" lengthAdjust="spacingAndGlyphs">−0.04 – 0.03</text><line x1="1184.30" y1="316.80" x2="1758.70" y2="316.80" stroke="#555" stroke-width="1.1"/><line x1="1184.30" y1="316.80" x2="1184.30" y2="567.30" stroke="#333" stroke-width="1.1"/><line x1="1758.70" y1="316.80" x2="1758.70" y2="567.30" stroke="#8a8a8a" stroke-width="1.1"/><line x1="1184.30" y1="567.30" x2="1758.70" y2="567.30" stroke="#333" stroke-width="1.2"/><line x1="307.50" y1="119.50" x2="264.00" y2="243.70" stroke="#000" stroke-width="2.8" stroke-linecap="round"/><line x1="778.30" y1="140.80" x2="788.00" y2="200.00" stroke="#000" stroke-width="2.8" stroke-linecap="round"/><line x1="1151.30" y1="249.00" x2="1039.30" y2="249.00" stroke="#000" stroke-width="2.8" stroke-linecap="round"/><line x1="1161.60" y1="638.30" x2="1078.70" y2="598.00" stroke="#000" stroke-width="2.6" stroke-linecap="round"/><line x1="698.60" y1="668.20" x2="689.30" y2="738.00" stroke="#000" stroke-width="2.8" stroke-linecap="round"/><line x1="994.20" y1="682.20" x2="1016.40" y2="738.20" stroke="#000" stroke-width="2.8" stroke-linecap="round"/><line x1="1461.50" y1="292.50" x2="1426.70" y2="327.70" stroke="#000" stroke-width="2.6" stroke-linecap="round"/><line x1="1483.90" y1="505.70" x2="1516.60" y2="606.30" stroke="#000" stroke-width="2.8" stroke-linecap="round"/><text x="285.00" y="115.80" font-family="Liberation Sans" font-size="22" font-weight="bold" font-style="normal" fill="#050505" textLength="57.50" lengthAdjust="spacingAndGlyphs">Table</text><text x="742.50" y="130.70" font-family="Liberation Sans" font-size="22" font-weight="bold" font-style="normal" fill="#050505" textLength="84.50" lengthAdjust="spacingAndGlyphs">Column</text><text x="1158.00" y="256.70" font-family="Liberation Sans" font-size="22" font-weight="bold" font-style="normal" fill="#050505" textLength="47.20" lengthAdjust="spacingAndGlyphs">Row</text><text x="1173.40" y="647.30" font-family="Liberation Sans" font-size="22" font-weight="bold" font-style="normal" fill="#050505" textLength="92.50" lengthAdjust="spacingAndGlyphs">Text Cell</text><text x="594.40" y="762.70" font-family="Liberation Sans" font-size="22" font-weight="bold" font-style="normal" fill="#050505" textLength="150.60" lengthAdjust="spacingAndGlyphs">Spanning Cell</text><text x="961.80" y="762.40" font-family="Liberation Sans" font-size="22" font-weight="bold" font-style="normal" fill="#050505" textLength="93.50" lengthAdjust="spacingAndGlyphs">Grid Cell</text><text x="1424.60" y="283.20" font-family="Liberation Sans" font-size="22" font-weight="bold" font-style="normal" fill="#050505" textLength="218.20" lengthAdjust="spacingAndGlyphs">Column Header Cell</text><text x="1407.40" y="635.10" font-family="Liberation Sans" font-size="22" font-weight="bold" font-style="normal" fill="#050505" textLength="290.80" lengthAdjust="spacingAndGlyphs">Projected Row Header Cell</text></svg>
<div class="ln" style="left:62.4px;top:385.70px;width:189.5px;letter-spacing:-0.063px;">and even lower than the caries prevalence in many other</div><div class="ln" style="left:62.4px;top:395.41px;width:189.5px;letter-spacing:-0.172px;">developing and developed countries. The risk and protect-</div><div class="ln" style="left:62.4px;top:405.12px;width:189.5px;letter-spacing:-0.166px;">ive factors for caries in the study environment are also not</div><div class="ln" style="left:62.4px;top:414.83px;width:189.5px;letter-spacing:-0.022px;">well understood [32]. This study provides evidence that</div><div class="ln" style="left:62.4px;top:424.54px;width:189.5px;letter-spacing:-0.131px;">the presence of developmental dental hard tissue anomal-</div><div class="ln" style="left:62.4px;top:434.25px;width:189.5px;">ies does not increase the probability of children having</div><div class="ln nl" style="left:62.4px;top:443.96px;width:189.5px;">caries in the study population.</div><div class="ln" style="left:62.4px;top:453.67px;width:189.5px;padding-left:6px;">Of importance is the significant association between</div><div class="ln" style="left:62.4px;top:463.38px;width:189.5px;">developmental dental hard tissue anomalies and poor</div><div class="ln" style="left:62.4px;top:473.09px;width:189.5px;letter-spacing:-0.190px;">oral hygiene. The presence of dental hard tissue anomalies</div><div class="ln" style="left:62.4px;top:482.80px;width:189.5px;letter-spacing:-0.177px;">increases difficulty in tooth cleaning [22]. It also increases</div><div class="ln" style="left:62.4px;top:492.51px;width:189.5px;">malocclusion, which also increases the risk for plaque</div><div class="ln" style="left:62.4px;top:502.22px;width:189.5px;letter-spacing:-0.017px;">retention and poor oral hygiene [42, 43]. The finding of</div><div class="ln" style="left:62.4px;top:511.93px;width:189.5px;">this study is therefore consistent with prior observa-</div><div class="ln" style="left:62.4px;top:521.64px;width:189.5px;">tions [44, 45] and has programmatic implications for</div><div class="ln" style="left:62.4px;top:531.35px;width:189.5px;letter-spacing:-0.030px;">managing adolescents. Adolescents with developmental</div><div class="ln" style="left:62.4px;top:541.06px;width:189.5px;">dental hard tissue anomaly should be treated as having</div><div class="ln" style="left:62.4px;top:550.77px;width:189.5px;">high risk for poor oral hygiene and should therefore be</div><div class="ln" style="left:62.4px;top:560.48px;width:189.5px;letter-spacing:-0.043px;">recalled more frequently for dental visits with particular</div><div class="ln" style="left:62.4px;top:570.19px;width:189.5px;letter-spacing:-0.171px;">emphasis on educating them about oral toileting including</div><div class="ln" style="left:62.4px;top:579.90px;width:189.5px;letter-spacing:-0.074px;">possible use of adjunctive therapies. This is important as</div><div class="ln" style="left:62.4px;top:589.61px;width:189.5px;letter-spacing:-0.038px;">oral health affect adolescents perception of body image,</div><div class="ln nl" style="left:62.4px;top:599.32px;width:189.5px;">self-esteem and mental health [46, 47].</div><div class="ln" style="left:62.4px;top:609.03px;width:189.5px;padding-left:6px;letter-spacing:-0.103px;">This study found a non-significant association between</div><div class="ln" style="left:62.4px;top:618.74px;width:189.5px;">caries and presence of enamel hypoplasia unlike the</div><div class="ln" style="left:62.4px;top:628.45px;width:189.5px;letter-spacing:-0.145px;">findings of some previous studies [48–51]. While Vargas-</div><div class="ln" style="left:62.4px;top:638.16px;width:189.5px;letter-spacing:-0.059px;">Ferreira et al’s [51] meta-analysis strongly indicates that</div><div class="ln" style="left:62.4px;top:647.87px;width:189.5px;letter-spacing:-0.069px;">developmental defects of the enamel such as enamel hy-</div><div class="ln" style="left:62.4px;top:657.58px;width:189.5px;letter-spacing:-0.111px;">poplasia is a risk factor for caries, this study finding indi-</div><div class="ln" style="left:62.4px;top:667.29px;width:189.5px;letter-spacing:-0.118px;">cates that enamel hypoplasia is not a risk factor for caries</div><div class="ln" style="left:62.4px;top:677.00px;width:189.5px;">in the study population from a sub-urban developing</div><div class="ln" style="left:62.4px;top:686.71px;width:189.5px;letter-spacing:-0.006px;">country where the caries prevalence and severity is low</div><div class="ln" style="left:62.4px;top:696.42px;width:189.5px;">[52]. However, the non-significant association between</div><div class="ln" style="left:62.4px;top:706.13px;width:189.5px;">developmental dental hard tissue anomalies and caries</div><div class="ln" style="left:263.3px;top:385.70px;width:189.7px;">and the significant association between developmental</div><div class="ln" style="left:263.3px;top:395.41px;width:189.7px;letter-spacing:-0.021px;">dental hard tissue anomalies and poor oral hygiene may</div><div class="ln" style="left:263.3px;top:405.12px;width:189.7px;letter-spacing:-0.239px;">highlight the probable pathophysiology of caries associated</div><div class="ln" style="left:263.3px;top:414.83px;width:189.7px;letter-spacing:-0.029px;">with developmental dental hard tissue anomalies: caries</div><div class="ln" style="left:263.3px;top:424.54px;width:189.7px;letter-spacing:-0.051px;">results as a secondary outcome of poor oral hygiene and</div><div class="ln" style="left:263.3px;top:434.25px;width:189.7px;">not through a direct pathway. This postulation would</div><div class="ln" style="left:263.3px;top:443.96px;width:189.7px;">need further studies, as there are multiple inter-related</div><div class="ln" style="left:263.3px;top:453.67px;width:189.7px;letter-spacing:-0.028px;">factors that may increase the susceptibility of teeth with</div><div class="ln nl" style="left:263.3px;top:463.38px;width:189.7px;">developmental dental hard tissue anomalies to caries.</div><div class="ln" style="left:263.3px;top:473.09px;width:189.7px;padding-left:6px;letter-spacing:-0.005px;">The study finding on gender and socioeconomic class</div><div class="ln" style="left:263.3px;top:482.80px;width:189.7px;">differences in the prevalence of enamel hypoplasia dif-</div><div class="ln" style="left:263.3px;top:492.51px;width:189.7px;">fered from the findings of Robles et al. [53] in Spain</div><div class="ln" style="left:263.3px;top:502.22px;width:189.7px;letter-spacing:-0.016px;">who showed increased prevalence increased prevalence</div><div class="ln" style="left:263.3px;top:511.93px;width:189.7px;letter-spacing:-0.063px;">of developmental defects of the enamel (inclusive of en-</div><div class="ln" style="left:263.3px;top:521.64px;width:189.7px;">amel hypoplasia) in males and in children from middle</div><div class="ln" style="left:263.3px;top:531.35px;width:189.7px;">and low socioeconomic status. The increasing risk for</div><div class="ln" style="left:263.3px;top:541.06px;width:189.7px;">developmental defects of the enamel with decreasing</div><div class="ln" style="left:263.3px;top:550.77px;width:189.7px;">socioeconomic status had been established, with this</div><div class="ln" style="left:263.3px;top:560.48px;width:189.7px;">association linked to poor nutritional status [54]. How-</div><div class="ln" style="left:263.3px;top:570.19px;width:189.7px;letter-spacing:-0.036px;">ever, the differences in the prevalence of developmental</div><div class="ln" style="left:263.3px;top:579.90px;width:189.7px;">defects of the enamel by gender remains unclear with</div><div class="ln" style="left:263.3px;top:589.61px;width:189.7px;">authors identifying male at greater risks [55, 56], some</div><div class="ln" style="left:263.3px;top:599.32px;width:189.7px;">identifying females at increased risk [57, 58] while</div><div class="ln" style="left:263.3px;top:609.03px;width:189.7px;letter-spacing:-0.184px;">others show no gender association [59, 60]. Many of these</div><div class="ln" style="left:263.3px;top:618.74px;width:189.7px;letter-spacing:-0.062px;">studies assessed enamel defects, regardless of whether it</div><div class="ln nl" style="left:263.3px;top:628.45px;width:189.7px;">was opacity or hypoplasia.</div><div class="ln" style="left:263.3px;top:638.16px;width:189.7px;padding-left:6px;">This study was a school based study implying that</div><div class="ln" style="left:263.3px;top:647.87px;width:189.7px;">children in Southwestern Nigeria who do not attend</div><div class="ln" style="left:263.3px;top:657.58px;width:189.7px;letter-spacing:-0.003px;">school have been left out of this survey as reports show</div><div class="ln" style="left:263.3px;top:667.29px;width:189.7px;">that a high proportion of children in Nigeria are out of</div><div class="ln" style="left:263.3px;top:677.00px;width:189.7px;letter-spacing:-0.013px;">school [61]. This limits the generalizability of the study</div><div class="ln" style="left:263.3px;top:686.71px;width:189.7px;">finding. However, within the limits of the design of the</div><div class="ln" style="left:263.3px;top:696.42px;width:189.7px;letter-spacing:-0.130px;">study, the data still provides useful information highlight-</div><div class="ln" style="left:263.3px;top:706.13px;width:189.7px;">ing the prevalence of developmental dental hard tissue</div>
</body></html>
